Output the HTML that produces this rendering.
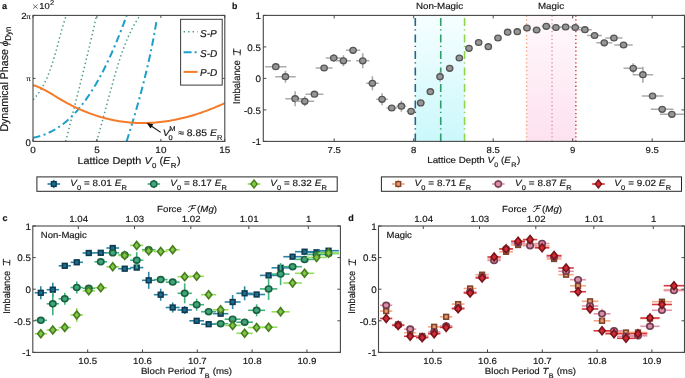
<!DOCTYPE html>
<html><head><meta charset="utf-8"><style>
html,body{margin:0;padding:0;background:#fff;}
body{width:685px;height:378px;overflow:hidden;font-family:"Liberation Sans",sans-serif;}
svg{display:block;will-change:transform;}
text{stroke:#141414;stroke-width:0.16px;paint-order:stroke;}
</style></head><body>
<svg width="685" height="378" viewBox="0 0 685 378" text-rendering="geometricPrecision">
<rect width="685" height="378" fill="#fff"/>
<defs><clipPath id="cpa"><rect x="33" y="15.4" width="191.8" height="126"/></clipPath><clipPath id="cpb"><rect x="263.3" y="15.4" width="421.1" height="126"/></clipPath><linearGradient id="gcy" x1="0" y1="0" x2="0" y2="1"><stop offset="0" stop-color="#f6feff"/><stop offset="1" stop-color="#cbf8fb"/></linearGradient><linearGradient id="gpk" x1="0" y1="0" x2="0" y2="1"><stop offset="0" stop-color="#fff9fc"/><stop offset="1" stop-color="#fde1ef"/></linearGradient></defs><g clip-path="url(#cpa)"><polyline points="33.2,99.8 34.44,98.37 35.62,96.94 36.74,95.51 37.81,94.08 38.83,92.65 39.8,91.22 40.73,89.79 41.62,88.36 42.46,86.93 43.26,85.49 44.03,84.06 44.76,82.63 45.46,81.2 46.13,79.77 46.78,78.34 47.39,76.91 47.99,75.48 48.56,74.05 49.11,72.62 49.65,71.19 50.18,69.76 50.68,68.33 51.18,66.9 51.66,65.47 52.14,64.04 52.6,62.61 53.05,61.18 53.49,59.75 53.93,58.32 54.35,56.88 54.77,55.45 55.18,54.02 55.58,52.59 55.98,51.16 56.38,49.73 56.77,48.3 57.16,46.87 57.54,45.44 57.92,44.01 58.3,42.58 58.68,41.15 59.06,39.72 59.45,38.29 59.83,36.86 60.21,35.43 60.6,34 60.99,32.57 61.38,31.14 61.78,29.71 62.19,28.27 62.6,26.84 63.02,25.41 63.44,23.98 63.88,22.55 64.32,21.12 64.77,19.69 65.23,18.26 65.71,16.83 66.19,15.4" fill="none" stroke="#45998a" stroke-width="1.5" stroke-dasharray="1.4 2.8"/><polyline points="65.79,141.4 66.32,139.26 66.85,137.13 67.38,134.99 67.91,132.86 68.44,130.72 68.98,128.59 69.51,126.45 70.05,124.32 70.58,122.18 71.12,120.04 71.66,117.91 72.19,115.77 72.73,113.64 73.27,111.5 73.81,109.37 74.35,107.23 74.89,105.09 75.43,102.96 75.97,100.82 76.5,98.69 77.04,96.55 77.58,94.42 78.12,92.28 78.66,90.15 79.19,88.01 79.73,85.87 80.27,83.74 80.8,81.6 81.33,79.47 81.87,77.33 82.4,75.2 82.93,73.06 83.46,70.93 83.99,68.79 84.51,66.65 85.04,64.52 85.56,62.38 86.08,60.25 86.6,58.11 87.12,55.98 87.64,53.84 88.16,51.71 88.67,49.57 89.18,47.43 89.69,45.3 90.19,43.16 90.7,41.03 91.2,38.89 91.7,36.76 92.2,34.62 92.69,32.48 93.18,30.35 93.67,28.21 94.15,26.08 94.64,23.94 95.12,21.81 95.59,19.67 96.06,17.54 96.53,15.4" fill="none" stroke="#45998a" stroke-width="1.5" stroke-dasharray="1.4 2.8"/><polyline points="96.62,141.4 97.24,139.26 97.86,137.13 98.47,134.99 99.07,132.86 99.67,130.72 100.27,128.59 100.86,126.45 101.45,124.32 102.04,122.18 102.62,120.04 103.2,117.91 103.78,115.77 104.36,113.64 104.94,111.5 105.52,109.37 106.09,107.23 106.67,105.09 107.24,102.96 107.82,100.82 108.4,98.69 108.98,96.55 109.56,94.42 110.14,92.28 110.72,90.15 111.31,88.01 111.89,85.87 112.49,83.74 113.08,81.6 113.68,79.47 114.29,77.33 114.9,75.2 115.52,73.06 116.14,70.93 116.78,68.79 117.43,66.65 118.09,64.52 118.76,62.38 119.45,60.25 120.15,58.11 120.86,55.98 121.6,53.84 122.35,51.71 123.12,49.57 123.91,47.43 124.72,45.3 125.55,43.16 126.42,41.03 127.31,38.89 128.24,36.76 129.21,34.62 130.21,32.48 131.26,30.35 132.36,28.21 133.5,26.08 134.7,23.94 135.95,21.81 137.26,19.67 138.63,17.54 140.06,15.4" fill="none" stroke="#45998a" stroke-width="1.5" stroke-dasharray="1.4 2.8"/><polyline points="33,137.86 34.36,137.56 35.72,137.23 37.08,136.88 38.44,136.51 39.8,136.1 41.17,135.67 42.53,135.21 43.89,134.72 45.25,134.2 46.61,133.64 47.97,133.05 49.33,132.43 50.69,131.77 52.05,131.08 53.41,130.35 54.77,129.57 56.13,128.77 57.5,127.92 58.86,127.02 60.22,126.09 61.58,125.12 62.94,124.1 64.3,123.04 65.66,121.93 67.02,120.77 68.38,119.57 69.74,118.32 71.1,117.03 72.47,115.68 73.83,114.28 75.19,112.84 76.55,111.34 77.91,109.79 79.27,108.19 80.63,106.53 81.99,104.82 83.35,103.06 84.71,101.24 86.07,99.37 87.43,97.44 88.8,95.45 90.16,93.41 91.52,91.3 92.88,89.14 94.24,86.92 95.6,84.64 96.96,82.3 98.32,79.9 99.68,77.44 101.04,74.92 102.4,72.33 103.77,69.69 105.13,66.98 106.49,64.2 107.85,61.37 109.21,58.47 110.57,55.51 111.93,52.48 113.29,49.39 114.65,46.23 116.01,43.01 117.37,39.72 118.73,36.36 120.1,32.94 121.46,29.46 122.82,25.91 124.18,22.29 125.54,18.6 126.9,14.85" fill="none" stroke="#1d9fc9" stroke-width="2" stroke-dasharray="7.5 3.5 2 3.5"/><polyline points="126.6,141.4 127.25,139.35 127.9,137.3 128.54,135.25 129.18,133.2 129.82,131.15 130.45,129.11 131.07,127.06 131.7,125.01 132.32,122.96 132.93,120.91 133.54,118.86 134.15,116.81 134.75,114.76 135.35,112.71 135.94,110.66 136.53,108.61 137.12,106.56 137.7,104.52 138.27,102.47 138.84,100.42 139.41,98.37 139.97,96.32 140.52,94.27 141.07,92.22 141.62,90.17 142.16,88.12 142.69,86.07 143.22,84.02 143.74,81.97 144.26,79.93 144.77,77.88 145.28,75.83 145.78,73.78 146.27,71.73 146.76,69.68 147.25,67.63 147.72,65.58 148.2,63.53 148.66,61.48 149.12,59.43 149.57,57.38 150.02,55.34 150.46,53.29 150.89,51.24 151.32,49.19 151.74,47.14 152.15,45.09 152.56,43.04 152.96,40.99 153.35,38.94 153.74,36.89 154.12,34.84 154.49,32.79 154.85,30.75 155.21,28.7 155.56,26.65 155.9,24.6 156.24,22.55 156.57,20.5" fill="none" stroke="#1d9fc9" stroke-width="2" stroke-dasharray="7.5 3.5 2 3.5"/><polyline points="33,85.16 35.16,85.8 37.31,86.58 39.47,87.47 41.62,88.45 43.78,89.53 45.93,90.68 48.09,91.89 50.24,93.14 52.4,94.43 54.55,95.74 56.71,97.05 58.86,98.36 61.02,99.64 63.17,100.89 65.33,102.1 67.48,103.28 69.64,104.42 71.79,105.53 73.95,106.6 76.1,107.64 78.26,108.64 80.41,109.6 82.57,110.54 84.72,111.43 86.88,112.3 89.03,113.12 91.19,113.92 93.34,114.68 95.5,115.4 97.65,116.09 99.81,116.75 101.96,117.37 104.12,117.96 106.27,118.52 108.43,119.04 110.58,119.53 112.74,119.99 114.89,120.41 117.05,120.8 119.2,121.16 121.36,121.48 123.51,121.78 125.67,122.04 127.82,122.27 129.98,122.47 132.13,122.64 134.29,122.77 136.44,122.88 138.6,122.95 140.75,122.99 142.91,123.01 145.06,122.99 147.22,122.95 149.37,122.87 151.53,122.76 153.68,122.63 155.84,122.47 157.99,122.27 160.15,122.05 162.3,121.8 164.46,121.53 166.61,121.22 168.77,120.89 170.92,120.53 173.08,120.14 175.23,119.72 177.39,119.28 179.54,118.81 181.7,118.31 183.85,117.79 186.01,117.24 188.16,116.67 190.32,116.07 192.47,115.44 194.63,114.79 196.78,114.11 198.94,113.41 201.09,112.68 203.25,111.93 205.4,111.16 207.56,110.36 209.71,109.53 211.87,108.69 214.02,107.82 216.18,106.92 218.33,106.01 220.49,105.07 222.64,104.1 224.8,103.12" fill="none" stroke="#f47b28" stroke-width="2" /></g><rect x="33" y="15.4" width="191.8" height="126" fill="none" stroke="#474747" stroke-width="1.1"/><line x1="33" y1="141.4" x2="33" y2="138.9" stroke="#474747" stroke-width="1" /><line x1="33" y1="15.4" x2="33" y2="17.9" stroke="#474747" stroke-width="1" /><line x1="96.93" y1="141.4" x2="96.93" y2="138.9" stroke="#474747" stroke-width="1" /><line x1="96.93" y1="15.4" x2="96.93" y2="17.9" stroke="#474747" stroke-width="1" /><line x1="160.87" y1="141.4" x2="160.87" y2="138.9" stroke="#474747" stroke-width="1" /><line x1="160.87" y1="15.4" x2="160.87" y2="17.9" stroke="#474747" stroke-width="1" /><line x1="224.8" y1="141.4" x2="224.8" y2="138.9" stroke="#474747" stroke-width="1" /><line x1="224.8" y1="15.4" x2="224.8" y2="17.9" stroke="#474747" stroke-width="1" /><line x1="33" y1="15.4" x2="35.5" y2="15.4" stroke="#474747" stroke-width="1" /><line x1="224.8" y1="15.4" x2="222.3" y2="15.4" stroke="#474747" stroke-width="1" /><line x1="33" y1="78.4" x2="35.5" y2="78.4" stroke="#474747" stroke-width="1" /><line x1="224.8" y1="78.4" x2="222.3" y2="78.4" stroke="#474747" stroke-width="1" /><line x1="33" y1="141.4" x2="35.5" y2="141.4" stroke="#474747" stroke-width="1" /><line x1="224.8" y1="141.4" x2="222.3" y2="141.4" stroke="#474747" stroke-width="1" /><text transform="translate(33,153.1) scale(1.1,1)" font-size="9" text-anchor="middle" font-weight="normal" font-style="normal" font-family='"Liberation Sans", sans-serif' fill="#141414" >0</text><text transform="translate(96.93,153.1) scale(1.1,1)" font-size="9" text-anchor="middle" font-weight="normal" font-style="normal" font-family='"Liberation Sans", sans-serif' fill="#141414" >5</text><text transform="translate(160.87,153.1) scale(1.1,1)" font-size="9" text-anchor="middle" font-weight="normal" font-style="normal" font-family='"Liberation Sans", sans-serif' fill="#141414" >10</text><text transform="translate(224.8,153.1) scale(1.1,1)" font-size="9" text-anchor="middle" font-weight="normal" font-style="normal" font-family='"Liberation Sans", sans-serif' fill="#141414" >15</text><text transform="translate(30.9,145.7) scale(1.0,1)" font-size="9.6" text-anchor="end" font-weight="normal" font-style="normal" font-family='"Liberation Sans", sans-serif' fill="#141414" >0</text><text transform="translate(30.8,81.4) scale(1.1,1)" font-size="7.6" text-anchor="end" font-weight="normal" font-style="normal" font-family='"Liberation Serif", serif' fill="#141414" >π</text><text transform="translate(30.8,18.9) scale(1.1,1)" font-size="8.8" text-anchor="end" font-weight="normal" font-style="normal" font-family='"Liberation Sans", sans-serif' fill="#141414" >2<tspan font-family='"Liberation Serif", serif' font-size="7.6">π</tspan></text><line x1="33.2" y1="4.5" x2="37.6" y2="8.7" stroke="#3a3a3a" stroke-width="0.75" /><line x1="37.6" y1="4.5" x2="33.2" y2="8.7" stroke="#3a3a3a" stroke-width="0.75" /><text transform="translate(39.2,8.9) scale(1.1,1)" font-size="8.6" text-anchor="start" font-weight="normal" font-style="normal" font-family='"Liberation Sans", sans-serif' fill="#141414" >10<tspan dx="0.2" dy="-3.8" font-size="6.8">2</tspan></text><text transform="translate(2,8.9) scale(1.0,1)" font-size="9" text-anchor="start" font-weight="bold" font-style="normal" font-family='"Liberation Sans", sans-serif' fill="#141414" >a</text><text transform="translate(77.4,163.6) scale(1.1,1)" font-size="9.9" text-anchor="start" font-weight="normal" font-style="normal" font-family='"Liberation Sans", sans-serif' fill="#141414" >Lattice Depth <tspan font-style="italic">V</tspan><tspan dx="0.3" dy="4.6" font-size="7.2">0</tspan><tspan dy="-4.6"> </tspan>(<tspan font-style="italic">E</tspan><tspan dx="0.3" dy="4.6" font-size="7.2">R</tspan><tspan dx="0.6" dy="-4.6">)</tspan></text><text transform="translate(7.9,131.6) rotate(-90) scale(1,1.06)" font-size="10.6" text-anchor="start" font-weight="normal" font-style="normal" font-family='"Liberation Sans", sans-serif' fill="#141414" >Dynamical Phase <tspan font-family='"Liberation Serif", serif' font-style="italic">ϕ</tspan><tspan dy="3.2" font-size="8">Dyn</tspan></text><rect x="180.6" y="19.3" width="41.6" height="65.8" fill="#fff" stroke="#3a3a3a" stroke-width="1"/><line x1="183.6" y1="31.8" x2="197.6" y2="31.8" stroke="#45998a" stroke-width="1.5" stroke-dasharray="1.4 3.1"/><line x1="183.6" y1="52.3" x2="197.6" y2="52.3" stroke="#1d9fc9" stroke-width="2" stroke-dasharray="8 3 2 3"/><line x1="183.6" y1="71.9" x2="197.6" y2="71.9" stroke="#f47b28" stroke-width="2" /><text transform="translate(200,36.7) scale(1.0,1)" font-size="10" text-anchor="start" font-weight="normal" font-style="italic" font-family='"Liberation Sans", sans-serif' fill="#141414" >S-P</text><text transform="translate(200,56.8) scale(1.0,1)" font-size="10" text-anchor="start" font-weight="normal" font-style="italic" font-family='"Liberation Sans", sans-serif' fill="#141414" >S-D</text><text transform="translate(200,76.2) scale(1.0,1)" font-size="10" text-anchor="start" font-weight="normal" font-style="italic" font-family='"Liberation Sans", sans-serif' fill="#141414" >P-D</text><line x1="160.7" y1="132.4" x2="150.5" y2="125.5" stroke="#111" stroke-width="1.1" /><path d="M146.5,122.8 L153.3,124.3 L150.6,128.4 Z" fill="#111"/><text transform="translate(162.8,135.6) scale(1.1,1)" font-size="9.45" text-anchor="start" font-weight="normal" font-style="normal" font-family='"Liberation Sans", sans-serif' fill="#141414" ><tspan font-style="italic">V</tspan><tspan dx="-0.4" dy="-4.4" font-size="6.8">M</tspan><tspan dx="-6.3" dy="9.0" font-size="6.8">0</tspan><tspan dx="2.4" dy="-4.6"> ≈ 8.85 </tspan><tspan font-style="italic">E</tspan><tspan dx="0.1" dy="4.1" font-size="6.9">R</tspan></text><rect x="415.29" y="15.4" width="49.29" height="126.0" fill="url(#gcy)"/><rect x="526.59" y="15.4" width="49.29" height="126.0" fill="url(#gpk)"/><line x1="415.29" y1="15.4" x2="415.29" y2="141.4" stroke="#1c6a8c" stroke-width="1.6" stroke-dasharray="8 3.3 1.3 3.9" stroke-dashoffset="-2.5"/><line x1="440.73" y1="15.4" x2="440.73" y2="141.4" stroke="#2f9e68" stroke-width="1.6" stroke-dasharray="8 3.3 1.3 3.9" stroke-dashoffset="-2.5"/><line x1="464.58" y1="15.4" x2="464.58" y2="141.4" stroke="#8ed54e" stroke-width="1.6" stroke-dasharray="8 3.3 1.3 3.9" stroke-dashoffset="-2.5"/><line x1="526.59" y1="15.4" x2="526.59" y2="141.4" stroke="#f3a07a" stroke-width="1.4" stroke-dasharray="1.3 2.6"/><line x1="552.03" y1="15.4" x2="552.03" y2="141.4" stroke="#d995ad" stroke-width="1.4" stroke-dasharray="1.3 2.6"/><line x1="575.88" y1="15.4" x2="575.88" y2="141.4" stroke="#d6333c" stroke-width="1.4" stroke-dasharray="1.3 2.6"/><g clip-path="url(#cpb)"><line x1="265.11" y1="66.7" x2="286.49" y2="66.7" stroke="#ababab" stroke-width="1.6" /><line x1="275.8" y1="64.7" x2="275.8" y2="68.7" stroke="#ababab" stroke-width="1.6" /><ellipse cx="275.8" cy="66.7" rx="3.2" ry="2.95" fill="#969696" stroke="#565656" stroke-width="1.3"/><line x1="275.22" y1="76.7" x2="295.7" y2="76.7" stroke="#ababab" stroke-width="1.6" /><line x1="285.46" y1="70.7" x2="285.46" y2="82.7" stroke="#ababab" stroke-width="1.6" /><ellipse cx="285.46" cy="76.7" rx="3.2" ry="2.95" fill="#969696" stroke="#565656" stroke-width="1.3"/><line x1="285.32" y1="98.7" x2="304.92" y2="98.7" stroke="#ababab" stroke-width="1.6" /><line x1="295.12" y1="91.2" x2="295.12" y2="106.2" stroke="#ababab" stroke-width="1.6" /><ellipse cx="295.12" cy="98.7" rx="3.2" ry="2.95" fill="#969696" stroke="#565656" stroke-width="1.3"/><line x1="295.42" y1="101.3" x2="314.14" y2="101.3" stroke="#ababab" stroke-width="1.6" /><line x1="304.78" y1="96.3" x2="304.78" y2="106.3" stroke="#ababab" stroke-width="1.6" /><ellipse cx="304.78" cy="101.3" rx="3.2" ry="2.95" fill="#969696" stroke="#565656" stroke-width="1.3"/><line x1="305.53" y1="94.2" x2="323.35" y2="94.2" stroke="#ababab" stroke-width="1.6" /><line x1="314.44" y1="92.2" x2="314.44" y2="96.2" stroke="#ababab" stroke-width="1.6" /><ellipse cx="314.44" cy="94.2" rx="3.2" ry="2.95" fill="#969696" stroke="#565656" stroke-width="1.3"/><line x1="315.63" y1="68" x2="332.57" y2="68" stroke="#ababab" stroke-width="1.6" /><line x1="324.1" y1="66" x2="324.1" y2="70" stroke="#ababab" stroke-width="1.6" /><ellipse cx="324.1" cy="68" rx="3.2" ry="2.95" fill="#969696" stroke="#565656" stroke-width="1.3"/><line x1="325.73" y1="58" x2="341.79" y2="58" stroke="#ababab" stroke-width="1.6" /><line x1="333.76" y1="54" x2="333.76" y2="62" stroke="#ababab" stroke-width="1.6" /><ellipse cx="333.76" cy="58" rx="3.2" ry="2.95" fill="#969696" stroke="#565656" stroke-width="1.3"/><line x1="335.84" y1="60.8" x2="351" y2="60.8" stroke="#ababab" stroke-width="1.6" /><line x1="343.42" y1="55.3" x2="343.42" y2="66.3" stroke="#ababab" stroke-width="1.6" /><ellipse cx="343.42" cy="60.8" rx="3.2" ry="2.95" fill="#969696" stroke="#565656" stroke-width="1.3"/><line x1="345.94" y1="50.3" x2="360.22" y2="50.3" stroke="#ababab" stroke-width="1.6" /><line x1="353.08" y1="48.3" x2="353.08" y2="52.3" stroke="#ababab" stroke-width="1.6" /><ellipse cx="353.08" cy="50.3" rx="3.2" ry="2.95" fill="#969696" stroke="#565656" stroke-width="1.3"/><line x1="356.04" y1="60.8" x2="369.44" y2="60.8" stroke="#ababab" stroke-width="1.6" /><line x1="362.74" y1="53.3" x2="362.74" y2="68.3" stroke="#ababab" stroke-width="1.6" /><ellipse cx="362.74" cy="60.8" rx="3.2" ry="2.95" fill="#969696" stroke="#565656" stroke-width="1.3"/><line x1="366.15" y1="83.3" x2="378.65" y2="83.3" stroke="#ababab" stroke-width="1.6" /><line x1="372.4" y1="76.3" x2="372.4" y2="90.3" stroke="#ababab" stroke-width="1.6" /><ellipse cx="372.4" cy="83.3" rx="3.2" ry="2.95" fill="#969696" stroke="#565656" stroke-width="1.3"/><line x1="376.25" y1="99.3" x2="387.87" y2="99.3" stroke="#ababab" stroke-width="1.6" /><line x1="382.06" y1="93.3" x2="382.06" y2="105.3" stroke="#ababab" stroke-width="1.6" /><ellipse cx="382.06" cy="99.3" rx="3.2" ry="2.95" fill="#969696" stroke="#565656" stroke-width="1.3"/><line x1="386.35" y1="108" x2="397.09" y2="108" stroke="#ababab" stroke-width="1.6" /><line x1="391.72" y1="106" x2="391.72" y2="110" stroke="#ababab" stroke-width="1.6" /><ellipse cx="391.72" cy="108" rx="3.2" ry="2.95" fill="#969696" stroke="#565656" stroke-width="1.3"/><line x1="396.46" y1="106.2" x2="406.3" y2="106.2" stroke="#ababab" stroke-width="1.6" /><line x1="401.38" y1="100.7" x2="401.38" y2="111.7" stroke="#ababab" stroke-width="1.6" /><ellipse cx="401.38" cy="106.2" rx="3.2" ry="2.95" fill="#969696" stroke="#565656" stroke-width="1.3"/><line x1="406.56" y1="111.3" x2="415.52" y2="111.3" stroke="#ababab" stroke-width="1.6" /><line x1="411.04" y1="109.3" x2="411.04" y2="113.3" stroke="#ababab" stroke-width="1.6" /><ellipse cx="411.04" cy="111.3" rx="3.2" ry="2.95" fill="#969696" stroke="#565656" stroke-width="1.3"/><line x1="416.66" y1="102.9" x2="424.74" y2="102.9" stroke="#ababab" stroke-width="1.6" /><line x1="420.7" y1="99.9" x2="420.7" y2="105.9" stroke="#ababab" stroke-width="1.6" /><ellipse cx="420.7" cy="102.9" rx="3.2" ry="2.95" fill="#969696" stroke="#565656" stroke-width="1.3"/><line x1="426.77" y1="91.7" x2="433.95" y2="91.7" stroke="#ababab" stroke-width="1.6" /><line x1="430.36" y1="88.7" x2="430.36" y2="94.7" stroke="#ababab" stroke-width="1.6" /><ellipse cx="430.36" cy="91.7" rx="3.2" ry="2.95" fill="#969696" stroke="#565656" stroke-width="1.3"/><line x1="436.87" y1="76.7" x2="443.17" y2="76.7" stroke="#ababab" stroke-width="1.6" /><line x1="440.02" y1="71.7" x2="440.02" y2="81.7" stroke="#ababab" stroke-width="1.6" /><ellipse cx="440.02" cy="76.7" rx="3.2" ry="2.95" fill="#969696" stroke="#565656" stroke-width="1.3"/><line x1="446.97" y1="68.3" x2="452.39" y2="68.3" stroke="#ababab" stroke-width="1.6" /><line x1="449.68" y1="65.3" x2="449.68" y2="71.3" stroke="#ababab" stroke-width="1.6" /><ellipse cx="449.68" cy="68.3" rx="3.2" ry="2.95" fill="#969696" stroke="#565656" stroke-width="1.3"/><line x1="457.08" y1="58" x2="461.6" y2="58" stroke="#ababab" stroke-width="1.6" /><line x1="459.34" y1="56" x2="459.34" y2="60" stroke="#ababab" stroke-width="1.6" /><ellipse cx="459.34" cy="58" rx="3.2" ry="2.95" fill="#969696" stroke="#565656" stroke-width="1.3"/><line x1="467.18" y1="48.3" x2="470.82" y2="48.3" stroke="#ababab" stroke-width="1.6" /><line x1="469" y1="46.3" x2="469" y2="50.3" stroke="#ababab" stroke-width="1.6" /><ellipse cx="469" cy="48.3" rx="3.2" ry="2.95" fill="#969696" stroke="#565656" stroke-width="1.3"/><line x1="477.16" y1="42.5" x2="480.16" y2="42.5" stroke="#ababab" stroke-width="1.6" /><line x1="478.66" y1="40.5" x2="478.66" y2="44.5" stroke="#ababab" stroke-width="1.6" /><ellipse cx="478.66" cy="42.5" rx="3.2" ry="2.95" fill="#969696" stroke="#565656" stroke-width="1.3"/><line x1="486.82" y1="46.7" x2="489.82" y2="46.7" stroke="#ababab" stroke-width="1.6" /><line x1="488.32" y1="44.7" x2="488.32" y2="48.7" stroke="#ababab" stroke-width="1.6" /><ellipse cx="488.32" cy="46.7" rx="3.2" ry="2.95" fill="#969696" stroke="#565656" stroke-width="1.3"/><line x1="496.2" y1="38" x2="499.76" y2="38" stroke="#ababab" stroke-width="1.6" /><line x1="497.98" y1="36" x2="497.98" y2="40" stroke="#ababab" stroke-width="1.6" /><ellipse cx="497.98" cy="38" rx="3.2" ry="2.95" fill="#969696" stroke="#565656" stroke-width="1.3"/><line x1="505.3" y1="32.2" x2="509.98" y2="32.2" stroke="#ababab" stroke-width="1.6" /><line x1="507.64" y1="30.2" x2="507.64" y2="34.2" stroke="#ababab" stroke-width="1.6" /><ellipse cx="507.64" cy="32.2" rx="3.2" ry="2.95" fill="#969696" stroke="#565656" stroke-width="1.3"/><line x1="514.39" y1="31.7" x2="520.21" y2="31.7" stroke="#ababab" stroke-width="1.6" /><line x1="517.3" y1="29.7" x2="517.3" y2="33.7" stroke="#ababab" stroke-width="1.6" /><ellipse cx="517.3" cy="31.7" rx="3.2" ry="2.95" fill="#969696" stroke="#565656" stroke-width="1.3"/><line x1="523.49" y1="28" x2="530.43" y2="28" stroke="#ababab" stroke-width="1.6" /><line x1="526.96" y1="26.5" x2="526.96" y2="29.5" stroke="#ababab" stroke-width="1.6" /><ellipse cx="526.96" cy="28" rx="3.2" ry="2.95" fill="#969696" stroke="#565656" stroke-width="1.3"/><line x1="532.58" y1="30" x2="540.66" y2="30" stroke="#ababab" stroke-width="1.6" /><line x1="536.62" y1="28" x2="536.62" y2="32" stroke="#ababab" stroke-width="1.6" /><ellipse cx="536.62" cy="30" rx="3.2" ry="2.95" fill="#969696" stroke="#565656" stroke-width="1.3"/><line x1="541.68" y1="26.3" x2="550.88" y2="26.3" stroke="#ababab" stroke-width="1.6" /><line x1="546.28" y1="24.3" x2="546.28" y2="28.3" stroke="#ababab" stroke-width="1.6" /><ellipse cx="546.28" cy="26.3" rx="3.2" ry="2.95" fill="#969696" stroke="#565656" stroke-width="1.3"/><line x1="550.77" y1="27.5" x2="561.11" y2="27.5" stroke="#ababab" stroke-width="1.6" /><line x1="555.94" y1="25.5" x2="555.94" y2="29.5" stroke="#ababab" stroke-width="1.6" /><ellipse cx="555.94" cy="27.5" rx="3.2" ry="2.95" fill="#969696" stroke="#565656" stroke-width="1.3"/><line x1="559.87" y1="27" x2="571.33" y2="27" stroke="#ababab" stroke-width="1.6" /><line x1="565.6" y1="25" x2="565.6" y2="29" stroke="#ababab" stroke-width="1.6" /><ellipse cx="565.6" cy="27" rx="3.2" ry="2.95" fill="#969696" stroke="#565656" stroke-width="1.3"/><line x1="568.96" y1="27.5" x2="581.56" y2="27.5" stroke="#ababab" stroke-width="1.6" /><line x1="575.26" y1="25.5" x2="575.26" y2="29.5" stroke="#ababab" stroke-width="1.6" /><ellipse cx="575.26" cy="27.5" rx="3.2" ry="2.95" fill="#969696" stroke="#565656" stroke-width="1.3"/><line x1="578.06" y1="29.7" x2="591.78" y2="29.7" stroke="#ababab" stroke-width="1.6" /><line x1="584.92" y1="27.7" x2="584.92" y2="31.7" stroke="#ababab" stroke-width="1.6" /><ellipse cx="584.92" cy="29.7" rx="3.2" ry="2.95" fill="#969696" stroke="#565656" stroke-width="1.3"/><line x1="587.15" y1="35.5" x2="602.01" y2="35.5" stroke="#ababab" stroke-width="1.6" /><line x1="594.58" y1="32.5" x2="594.58" y2="38.5" stroke="#ababab" stroke-width="1.6" /><ellipse cx="594.58" cy="35.5" rx="3.2" ry="2.95" fill="#969696" stroke="#565656" stroke-width="1.3"/><line x1="596.25" y1="42.8" x2="612.23" y2="42.8" stroke="#ababab" stroke-width="1.6" /><line x1="604.24" y1="40.8" x2="604.24" y2="44.8" stroke="#ababab" stroke-width="1.6" /><ellipse cx="604.24" cy="42.8" rx="3.2" ry="2.95" fill="#969696" stroke="#565656" stroke-width="1.3"/><line x1="605.34" y1="38" x2="622.46" y2="38" stroke="#ababab" stroke-width="1.6" /><line x1="613.9" y1="36" x2="613.9" y2="40" stroke="#ababab" stroke-width="1.6" /><ellipse cx="613.9" cy="38" rx="3.2" ry="2.95" fill="#969696" stroke="#565656" stroke-width="1.3"/><line x1="614.44" y1="45" x2="632.68" y2="45" stroke="#ababab" stroke-width="1.6" /><line x1="623.56" y1="43" x2="623.56" y2="47" stroke="#ababab" stroke-width="1.6" /><ellipse cx="623.56" cy="45" rx="3.2" ry="2.95" fill="#969696" stroke="#565656" stroke-width="1.3"/><line x1="623.53" y1="68.3" x2="642.91" y2="68.3" stroke="#ababab" stroke-width="1.6" /><line x1="633.22" y1="63.3" x2="633.22" y2="73.3" stroke="#ababab" stroke-width="1.6" /><ellipse cx="633.22" cy="68.3" rx="3.2" ry="2.95" fill="#969696" stroke="#565656" stroke-width="1.3"/><line x1="632.63" y1="74.7" x2="653.13" y2="74.7" stroke="#ababab" stroke-width="1.6" /><line x1="642.88" y1="66.7" x2="642.88" y2="82.7" stroke="#ababab" stroke-width="1.6" /><ellipse cx="642.88" cy="74.7" rx="3.2" ry="2.95" fill="#969696" stroke="#565656" stroke-width="1.3"/><line x1="641.72" y1="96" x2="663.36" y2="96" stroke="#ababab" stroke-width="1.6" /><line x1="652.54" y1="93" x2="652.54" y2="99" stroke="#ababab" stroke-width="1.6" /><ellipse cx="652.54" cy="96" rx="3.2" ry="2.95" fill="#969696" stroke="#565656" stroke-width="1.3"/><line x1="650.82" y1="109.3" x2="673.58" y2="109.3" stroke="#ababab" stroke-width="1.6" /><line x1="662.2" y1="106.3" x2="662.2" y2="112.3" stroke="#ababab" stroke-width="1.6" /><ellipse cx="662.2" cy="109.3" rx="3.2" ry="2.95" fill="#969696" stroke="#565656" stroke-width="1.3"/><line x1="659.91" y1="114.3" x2="683.81" y2="114.3" stroke="#ababab" stroke-width="1.6" /><line x1="671.86" y1="111.3" x2="671.86" y2="117.3" stroke="#ababab" stroke-width="1.6" /><ellipse cx="671.86" cy="114.3" rx="3.2" ry="2.95" fill="#969696" stroke="#565656" stroke-width="1.3"/></g><rect x="263.3" y="15.4" width="421.2" height="126" fill="none" stroke="#474747" stroke-width="1.1"/><line x1="334.2" y1="141.4" x2="334.2" y2="138.4" stroke="#474747" stroke-width="1" /><line x1="334.2" y1="15.4" x2="334.2" y2="18.4" stroke="#474747" stroke-width="1" /><line x1="413.7" y1="141.4" x2="413.7" y2="138.4" stroke="#474747" stroke-width="1" /><line x1="413.7" y1="15.4" x2="413.7" y2="18.4" stroke="#474747" stroke-width="1" /><line x1="493.2" y1="141.4" x2="493.2" y2="138.4" stroke="#474747" stroke-width="1" /><line x1="493.2" y1="15.4" x2="493.2" y2="18.4" stroke="#474747" stroke-width="1" /><line x1="572.7" y1="141.4" x2="572.7" y2="138.4" stroke="#474747" stroke-width="1" /><line x1="572.7" y1="15.4" x2="572.7" y2="18.4" stroke="#474747" stroke-width="1" /><line x1="652.2" y1="141.4" x2="652.2" y2="138.4" stroke="#474747" stroke-width="1" /><line x1="652.2" y1="15.4" x2="652.2" y2="18.4" stroke="#474747" stroke-width="1" /><line x1="263.3" y1="15.4" x2="266.3" y2="15.4" stroke="#474747" stroke-width="1" /><line x1="684.5" y1="15.4" x2="681.5" y2="15.4" stroke="#474747" stroke-width="1" /><line x1="263.3" y1="46.9" x2="266.3" y2="46.9" stroke="#474747" stroke-width="1" /><line x1="684.5" y1="46.9" x2="681.5" y2="46.9" stroke="#474747" stroke-width="1" /><line x1="263.3" y1="78.4" x2="266.3" y2="78.4" stroke="#474747" stroke-width="1" /><line x1="684.5" y1="78.4" x2="681.5" y2="78.4" stroke="#474747" stroke-width="1" /><line x1="263.3" y1="109.9" x2="266.3" y2="109.9" stroke="#474747" stroke-width="1" /><line x1="684.5" y1="109.9" x2="681.5" y2="109.9" stroke="#474747" stroke-width="1" /><line x1="263.3" y1="141.4" x2="266.3" y2="141.4" stroke="#474747" stroke-width="1" /><line x1="684.5" y1="141.4" x2="681.5" y2="141.4" stroke="#474747" stroke-width="1" /><text transform="translate(334.2,152.9) scale(1.1,1)" font-size="8.7" text-anchor="middle" font-weight="normal" font-style="normal" font-family='"Liberation Sans", sans-serif' fill="#141414" >7.5</text><text transform="translate(413.7,152.9) scale(1.1,1)" font-size="8.7" text-anchor="middle" font-weight="normal" font-style="normal" font-family='"Liberation Sans", sans-serif' fill="#141414" >8</text><text transform="translate(493.2,152.9) scale(1.1,1)" font-size="8.7" text-anchor="middle" font-weight="normal" font-style="normal" font-family='"Liberation Sans", sans-serif' fill="#141414" >8.5</text><text transform="translate(572.7,152.9) scale(1.1,1)" font-size="8.7" text-anchor="middle" font-weight="normal" font-style="normal" font-family='"Liberation Sans", sans-serif' fill="#141414" >9</text><text transform="translate(652.2,152.9) scale(1.1,1)" font-size="8.7" text-anchor="middle" font-weight="normal" font-style="normal" font-family='"Liberation Sans", sans-serif' fill="#141414" >9.5</text><text transform="translate(260.9,19.3) scale(1.03,1)" font-size="9.5" text-anchor="end" font-weight="normal" font-style="normal" font-family='"Liberation Sans", sans-serif' fill="#141414" >1</text><text transform="translate(260.9,50.8) scale(1.03,1)" font-size="9.5" text-anchor="end" font-weight="normal" font-style="normal" font-family='"Liberation Sans", sans-serif' fill="#141414" >0.5</text><text transform="translate(260.9,82.3) scale(1.03,1)" font-size="9.5" text-anchor="end" font-weight="normal" font-style="normal" font-family='"Liberation Sans", sans-serif' fill="#141414" >0</text><text transform="translate(260.9,113.8) scale(1.03,1)" font-size="9.5" text-anchor="end" font-weight="normal" font-style="normal" font-family='"Liberation Sans", sans-serif' fill="#141414" >-0.5</text><text transform="translate(260.9,145.3) scale(1.03,1)" font-size="9.5" text-anchor="end" font-weight="normal" font-style="normal" font-family='"Liberation Sans", sans-serif' fill="#141414" >-1</text><text transform="translate(231.9,9.2) scale(0.98,1)" font-size="9" text-anchor="start" font-weight="bold" font-style="normal" font-family='"Liberation Sans", sans-serif' fill="#141414" >b</text><text transform="translate(439.5,9.3) scale(1.1,1)" font-size="8.9" text-anchor="middle" font-weight="normal" font-style="normal" font-family='"Liberation Sans", sans-serif' fill="#141414" >Non-Magic</text><text transform="translate(551,9.3) scale(1.1,1)" font-size="8.9" text-anchor="middle" font-weight="normal" font-style="normal" font-family='"Liberation Sans", sans-serif' fill="#141414" >Magic</text><text transform="translate(427.2,163.2) scale(1.1,1)" font-size="8.9" text-anchor="start" font-weight="normal" font-style="normal" font-family='"Liberation Sans", sans-serif' fill="#141414" >Lattice Depth <tspan font-style="italic">V</tspan><tspan dx="0.3" dy="4.2" font-size="6.6">0</tspan><tspan dy="-4.2"> </tspan>(<tspan font-style="italic">E</tspan><tspan dx="0.3" dy="4.2" font-size="6.6">R</tspan><tspan dx="0.5" dy="-4.2">)</tspan></text><text transform="translate(240,104) rotate(-90) scale(1,1.05)" font-size="9.5" text-anchor="start" font-weight="normal" font-style="normal" font-family='"Liberation Sans", sans-serif' fill="#141414" >Imbalance</text><path d="M1.5,-6.5 C3,-6.9 5.5,-6.6 7.6,-6.6 M5.2,-6.5 C4.8,-4.2 4.3,-2 3.9,0 M1.4,0 C3,0.2 5,-0.1 6.6,0.1" transform="translate(240.2,56.3) rotate(-90) scale(0.978)" fill="none" stroke="#141414" stroke-width="0.95" stroke-linecap="round"/><rect x="36.9" y="176.9" width="300.3" height="14.4" fill="#fff" stroke="#262626" stroke-width="1"/><line x1="47.5" y1="184" x2="60.1" y2="184" stroke="#2b86a6" stroke-width="1.7" /><line x1="53.8" y1="179.8" x2="53.8" y2="188.2" stroke="#2b86a6" stroke-width="1.7" /><rect x="51.45" y="181.65" width="4.7" height="4.7" fill="#1f6e8e" stroke="#0d3a50" stroke-width="1.4"/><text transform="translate(70.2,186) scale(1.1,1)" font-size="9.0" text-anchor="start" font-weight="normal" font-style="normal" font-family='"Liberation Sans", sans-serif' fill="#141414" ><tspan font-style="italic">V</tspan><tspan dx="0.1" dy="4.3" font-size="6.8">0</tspan><tspan dy="-4.3"> </tspan><tspan dx="0.2">= 8.01 </tspan><tspan font-style="italic">E</tspan><tspan dx="0.3" dy="4.3" font-size="6.8">R</tspan></text><line x1="147.5" y1="184" x2="160.1" y2="184" stroke="#40b27c" stroke-width="1.7" /><line x1="153.8" y1="179.8" x2="153.8" y2="188.2" stroke="#40b27c" stroke-width="1.7" /><ellipse cx="153.8" cy="184" rx="3.2" ry="2.95" fill="#41a67a" stroke="#1a6242" stroke-width="1.4"/><text transform="translate(170.2,186) scale(1.1,1)" font-size="9.0" text-anchor="start" font-weight="normal" font-style="normal" font-family='"Liberation Sans", sans-serif' fill="#141414" ><tspan font-style="italic">V</tspan><tspan dx="0.1" dy="4.3" font-size="6.8">0</tspan><tspan dy="-4.3"> </tspan><tspan dx="0.2">= 8.17 </tspan><tspan font-style="italic">E</tspan><tspan dx="0.3" dy="4.3" font-size="6.8">R</tspan></text><line x1="247.7" y1="184" x2="260.3" y2="184" stroke="#93e057" stroke-width="1.7" /><line x1="254" y1="179.8" x2="254" y2="188.2" stroke="#93e057" stroke-width="1.7" /><path d="M254,180L257.2,184L254,188L250.8,184Z" fill="#80c84a" stroke="#487c20" stroke-width="1.4"/><text transform="translate(270.2,186) scale(1.1,1)" font-size="9.0" text-anchor="start" font-weight="normal" font-style="normal" font-family='"Liberation Sans", sans-serif' fill="#141414" ><tspan font-style="italic">V</tspan><tspan dx="0.1" dy="4.3" font-size="6.8">0</tspan><tspan dy="-4.3"> </tspan><tspan dx="0.2">= 8.32 </tspan><tspan font-style="italic">E</tspan><tspan dx="0.3" dy="4.3" font-size="6.8">R</tspan></text><rect x="381.4" y="176.9" width="300.1" height="14.4" fill="#fff" stroke="#262626" stroke-width="1"/><line x1="392" y1="184" x2="404.6" y2="184" stroke="#f7a882" stroke-width="1.7" /><line x1="398.3" y1="179.8" x2="398.3" y2="188.2" stroke="#f7a882" stroke-width="1.7" /><rect x="395.95" y="181.65" width="4.7" height="4.7" fill="#eb9a70" stroke="#7c4429" stroke-width="1.4"/><text transform="translate(414.5,186) scale(1.1,1)" font-size="9.0" text-anchor="start" font-weight="normal" font-style="normal" font-family='"Liberation Sans", sans-serif' fill="#141414" ><tspan font-style="italic">V</tspan><tspan dx="0.1" dy="4.3" font-size="6.8">0</tspan><tspan dy="-4.3"> </tspan><tspan dx="0.2">= 8.71 </tspan><tspan font-style="italic">E</tspan><tspan dx="0.3" dy="4.3" font-size="6.8">R</tspan></text><line x1="492" y1="184" x2="504.6" y2="184" stroke="#e293aa" stroke-width="1.7" /><line x1="498.3" y1="179.8" x2="498.3" y2="188.2" stroke="#e293aa" stroke-width="1.7" /><ellipse cx="498.3" cy="184" rx="3.2" ry="2.95" fill="#d98ea6" stroke="#713e52" stroke-width="1.4"/><text transform="translate(515,186) scale(1.1,1)" font-size="9.0" text-anchor="start" font-weight="normal" font-style="normal" font-family='"Liberation Sans", sans-serif' fill="#141414" ><tspan font-style="italic">V</tspan><tspan dx="0.1" dy="4.3" font-size="6.8">0</tspan><tspan dy="-4.3"> </tspan><tspan dx="0.2">= 8.87 </tspan><tspan font-style="italic">E</tspan><tspan dx="0.3" dy="4.3" font-size="6.8">R</tspan></text><line x1="592.1" y1="184" x2="604.7" y2="184" stroke="#d9383f" stroke-width="1.7" /><line x1="598.4" y1="179.8" x2="598.4" y2="188.2" stroke="#d9383f" stroke-width="1.7" /><path d="M598.4,180L601.6,184L598.4,188L595.2,184Z" fill="#d02c36" stroke="#7a131b" stroke-width="1.4"/><text transform="translate(614.3,186) scale(1.1,1)" font-size="9.0" text-anchor="start" font-weight="normal" font-style="normal" font-family='"Liberation Sans", sans-serif' fill="#141414" ><tspan font-style="italic">V</tspan><tspan dx="0.1" dy="4.3" font-size="6.8">0</tspan><tspan dy="-4.3"> </tspan><tspan dx="0.2">= 9.02 </tspan><tspan font-style="italic">E</tspan><tspan dx="0.3" dy="4.3" font-size="6.8">R</tspan></text><line x1="34.7" y1="292.8" x2="46.9" y2="292.8" stroke="#2b86a6" stroke-width="1.6" /><line x1="40.8" y1="286.3" x2="40.8" y2="299.3" stroke="#2b86a6" stroke-width="1.6" /><rect x="38.45" y="290.45" width="4.7" height="4.7" fill="#1f6e8e" stroke="#0d3a50" stroke-width="1.6"/><line x1="46.68" y1="289.7" x2="58.9" y2="289.7" stroke="#2b86a6" stroke-width="1.6" /><line x1="52.79" y1="282.7" x2="52.79" y2="296.7" stroke="#2b86a6" stroke-width="1.6" /><rect x="50.44" y="287.35" width="4.7" height="4.7" fill="#1f6e8e" stroke="#0d3a50" stroke-width="1.6"/><line x1="58.65" y1="265.8" x2="70.91" y2="265.8" stroke="#2b86a6" stroke-width="1.6" /><line x1="64.78" y1="263.3" x2="64.78" y2="268.3" stroke="#2b86a6" stroke-width="1.6" /><rect x="62.43" y="263.45" width="4.7" height="4.7" fill="#1f6e8e" stroke="#0d3a50" stroke-width="1.6"/><line x1="70.6" y1="262.3" x2="82.94" y2="262.3" stroke="#2b86a6" stroke-width="1.6" /><line x1="76.77" y1="259.8" x2="76.77" y2="264.8" stroke="#2b86a6" stroke-width="1.6" /><rect x="74.42" y="259.95" width="4.7" height="4.7" fill="#1f6e8e" stroke="#0d3a50" stroke-width="1.6"/><line x1="82.54" y1="253" x2="94.98" y2="253" stroke="#2b86a6" stroke-width="1.6" /><line x1="88.76" y1="250.5" x2="88.76" y2="255.5" stroke="#2b86a6" stroke-width="1.6" /><rect x="86.41" y="250.65" width="4.7" height="4.7" fill="#1f6e8e" stroke="#0d3a50" stroke-width="1.6"/><line x1="94.47" y1="252.8" x2="107.03" y2="252.8" stroke="#2b86a6" stroke-width="1.6" /><line x1="100.75" y1="250.3" x2="100.75" y2="255.3" stroke="#2b86a6" stroke-width="1.6" /><rect x="98.4" y="250.45" width="4.7" height="4.7" fill="#1f6e8e" stroke="#0d3a50" stroke-width="1.6"/><line x1="106.38" y1="248" x2="119.1" y2="248" stroke="#2b86a6" stroke-width="1.6" /><line x1="112.74" y1="245.5" x2="112.74" y2="250.5" stroke="#2b86a6" stroke-width="1.6" /><rect x="110.39" y="245.65" width="4.7" height="4.7" fill="#1f6e8e" stroke="#0d3a50" stroke-width="1.6"/><line x1="118.27" y1="268.7" x2="131.19" y2="268.7" stroke="#2b86a6" stroke-width="1.6" /><line x1="124.73" y1="266.2" x2="124.73" y2="271.2" stroke="#2b86a6" stroke-width="1.6" /><rect x="122.38" y="266.35" width="4.7" height="4.7" fill="#1f6e8e" stroke="#0d3a50" stroke-width="1.6"/><line x1="130.15" y1="267.6" x2="143.29" y2="267.6" stroke="#2b86a6" stroke-width="1.6" /><line x1="136.72" y1="265.1" x2="136.72" y2="270.1" stroke="#2b86a6" stroke-width="1.6" /><rect x="134.37" y="265.25" width="4.7" height="4.7" fill="#1f6e8e" stroke="#0d3a50" stroke-width="1.6"/><line x1="142.02" y1="280.3" x2="155.4" y2="280.3" stroke="#2b86a6" stroke-width="1.6" /><line x1="148.71" y1="271.8" x2="148.71" y2="288.8" stroke="#2b86a6" stroke-width="1.6" /><rect x="146.36" y="277.95" width="4.7" height="4.7" fill="#1f6e8e" stroke="#0d3a50" stroke-width="1.6"/><line x1="153.87" y1="294.7" x2="167.53" y2="294.7" stroke="#2b86a6" stroke-width="1.6" /><line x1="160.7" y1="288.7" x2="160.7" y2="300.7" stroke="#2b86a6" stroke-width="1.6" /><rect x="158.35" y="292.35" width="4.7" height="4.7" fill="#1f6e8e" stroke="#0d3a50" stroke-width="1.6"/><line x1="165.71" y1="307.5" x2="179.67" y2="307.5" stroke="#2b86a6" stroke-width="1.6" /><line x1="172.69" y1="302.5" x2="172.69" y2="312.5" stroke="#2b86a6" stroke-width="1.6" /><rect x="170.34" y="305.15" width="4.7" height="4.7" fill="#1f6e8e" stroke="#0d3a50" stroke-width="1.6"/><line x1="177.53" y1="310" x2="191.83" y2="310" stroke="#2b86a6" stroke-width="1.6" /><line x1="184.68" y1="306" x2="184.68" y2="314" stroke="#2b86a6" stroke-width="1.6" /><rect x="182.33" y="307.65" width="4.7" height="4.7" fill="#1f6e8e" stroke="#0d3a50" stroke-width="1.6"/><line x1="189.34" y1="320.8" x2="204" y2="320.8" stroke="#2b86a6" stroke-width="1.6" /><line x1="196.67" y1="318.3" x2="196.67" y2="323.3" stroke="#2b86a6" stroke-width="1.6" /><rect x="194.32" y="318.45" width="4.7" height="4.7" fill="#1f6e8e" stroke="#0d3a50" stroke-width="1.6"/><line x1="201.13" y1="324.2" x2="216.19" y2="324.2" stroke="#2b86a6" stroke-width="1.6" /><line x1="208.66" y1="321.7" x2="208.66" y2="326.7" stroke="#2b86a6" stroke-width="1.6" /><rect x="206.31" y="321.85" width="4.7" height="4.7" fill="#1f6e8e" stroke="#0d3a50" stroke-width="1.6"/><line x1="212.91" y1="313.7" x2="228.39" y2="313.7" stroke="#2b86a6" stroke-width="1.6" /><line x1="220.65" y1="311.2" x2="220.65" y2="316.2" stroke="#2b86a6" stroke-width="1.6" /><rect x="218.3" y="311.35" width="4.7" height="4.7" fill="#1f6e8e" stroke="#0d3a50" stroke-width="1.6"/><line x1="224.67" y1="302" x2="240.61" y2="302" stroke="#2b86a6" stroke-width="1.6" /><line x1="232.64" y1="295" x2="232.64" y2="309" stroke="#2b86a6" stroke-width="1.6" /><rect x="230.29" y="299.65" width="4.7" height="4.7" fill="#1f6e8e" stroke="#0d3a50" stroke-width="1.6"/><line x1="236.42" y1="293.3" x2="252.84" y2="293.3" stroke="#2b86a6" stroke-width="1.6" /><line x1="244.63" y1="286.3" x2="244.63" y2="300.3" stroke="#2b86a6" stroke-width="1.6" /><rect x="242.28" y="290.95" width="4.7" height="4.7" fill="#1f6e8e" stroke="#0d3a50" stroke-width="1.6"/><line x1="248.16" y1="294.5" x2="265.08" y2="294.5" stroke="#2b86a6" stroke-width="1.6" /><line x1="256.62" y1="292" x2="256.62" y2="297" stroke="#2b86a6" stroke-width="1.6" /><rect x="254.27" y="292.15" width="4.7" height="4.7" fill="#1f6e8e" stroke="#0d3a50" stroke-width="1.6"/><line x1="259.88" y1="275.4" x2="277.34" y2="275.4" stroke="#2b86a6" stroke-width="1.6" /><line x1="268.61" y1="272.9" x2="268.61" y2="277.9" stroke="#2b86a6" stroke-width="1.6" /><rect x="266.26" y="273.05" width="4.7" height="4.7" fill="#1f6e8e" stroke="#0d3a50" stroke-width="1.6"/><line x1="271.58" y1="267.8" x2="289.62" y2="267.8" stroke="#2b86a6" stroke-width="1.6" /><line x1="280.6" y1="265.3" x2="280.6" y2="270.3" stroke="#2b86a6" stroke-width="1.6" /><rect x="278.25" y="265.45" width="4.7" height="4.7" fill="#1f6e8e" stroke="#0d3a50" stroke-width="1.6"/><line x1="283.27" y1="256.7" x2="301.91" y2="256.7" stroke="#2b86a6" stroke-width="1.6" /><line x1="292.59" y1="254.2" x2="292.59" y2="259.2" stroke="#2b86a6" stroke-width="1.6" /><rect x="290.24" y="254.35" width="4.7" height="4.7" fill="#1f6e8e" stroke="#0d3a50" stroke-width="1.6"/><line x1="294.95" y1="251.7" x2="314.21" y2="251.7" stroke="#2b86a6" stroke-width="1.6" /><line x1="304.58" y1="249.2" x2="304.58" y2="254.2" stroke="#2b86a6" stroke-width="1.6" /><rect x="302.23" y="249.35" width="4.7" height="4.7" fill="#1f6e8e" stroke="#0d3a50" stroke-width="1.6"/><line x1="306.61" y1="252.3" x2="326.53" y2="252.3" stroke="#2b86a6" stroke-width="1.6" /><line x1="316.57" y1="249.8" x2="316.57" y2="254.8" stroke="#2b86a6" stroke-width="1.6" /><rect x="314.22" y="249.95" width="4.7" height="4.7" fill="#1f6e8e" stroke="#0d3a50" stroke-width="1.6"/><line x1="318.26" y1="250.7" x2="338.86" y2="250.7" stroke="#2b86a6" stroke-width="1.6" /><line x1="328.56" y1="248.2" x2="328.56" y2="253.2" stroke="#2b86a6" stroke-width="1.6" /><rect x="326.21" y="248.35" width="4.7" height="4.7" fill="#1f6e8e" stroke="#0d3a50" stroke-width="1.6"/><line x1="34.7" y1="320.3" x2="46.9" y2="320.3" stroke="#40b27c" stroke-width="1.6" /><line x1="40.8" y1="317.8" x2="40.8" y2="322.8" stroke="#40b27c" stroke-width="1.6" /><ellipse cx="40.8" cy="320.3" rx="3.2" ry="2.95" fill="#41a67a" stroke="#1a6242" stroke-width="1.6"/><line x1="46.68" y1="303.8" x2="58.9" y2="303.8" stroke="#40b27c" stroke-width="1.6" /><line x1="52.79" y1="292.3" x2="52.79" y2="315.3" stroke="#40b27c" stroke-width="1.6" /><ellipse cx="52.79" cy="303.8" rx="3.2" ry="2.95" fill="#41a67a" stroke="#1a6242" stroke-width="1.6"/><line x1="58.65" y1="298.8" x2="70.91" y2="298.8" stroke="#40b27c" stroke-width="1.6" /><line x1="64.78" y1="292.8" x2="64.78" y2="304.8" stroke="#40b27c" stroke-width="1.6" /><ellipse cx="64.78" cy="298.8" rx="3.2" ry="2.95" fill="#41a67a" stroke="#1a6242" stroke-width="1.6"/><line x1="70.6" y1="287.5" x2="82.94" y2="287.5" stroke="#40b27c" stroke-width="1.6" /><line x1="76.77" y1="281.5" x2="76.77" y2="293.5" stroke="#40b27c" stroke-width="1.6" /><ellipse cx="76.77" cy="287.5" rx="3.2" ry="2.95" fill="#41a67a" stroke="#1a6242" stroke-width="1.6"/><line x1="82.54" y1="288.3" x2="94.98" y2="288.3" stroke="#40b27c" stroke-width="1.6" /><line x1="88.76" y1="285.8" x2="88.76" y2="290.8" stroke="#40b27c" stroke-width="1.6" /><ellipse cx="88.76" cy="288.3" rx="3.2" ry="2.95" fill="#41a67a" stroke="#1a6242" stroke-width="1.6"/><line x1="94.47" y1="261.8" x2="107.03" y2="261.8" stroke="#40b27c" stroke-width="1.6" /><line x1="100.75" y1="259.3" x2="100.75" y2="264.3" stroke="#40b27c" stroke-width="1.6" /><ellipse cx="100.75" cy="261.8" rx="3.2" ry="2.95" fill="#41a67a" stroke="#1a6242" stroke-width="1.6"/><line x1="106.38" y1="252.8" x2="119.1" y2="252.8" stroke="#40b27c" stroke-width="1.6" /><line x1="112.74" y1="250.3" x2="112.74" y2="255.3" stroke="#40b27c" stroke-width="1.6" /><ellipse cx="112.74" cy="252.8" rx="3.2" ry="2.95" fill="#41a67a" stroke="#1a6242" stroke-width="1.6"/><line x1="118.27" y1="255" x2="131.19" y2="255" stroke="#40b27c" stroke-width="1.6" /><line x1="124.73" y1="252.5" x2="124.73" y2="257.5" stroke="#40b27c" stroke-width="1.6" /><ellipse cx="124.73" cy="255" rx="3.2" ry="2.95" fill="#41a67a" stroke="#1a6242" stroke-width="1.6"/><line x1="130.15" y1="260.2" x2="143.29" y2="260.2" stroke="#40b27c" stroke-width="1.6" /><line x1="136.72" y1="252.2" x2="136.72" y2="268.2" stroke="#40b27c" stroke-width="1.6" /><ellipse cx="136.72" cy="260.2" rx="3.2" ry="2.95" fill="#41a67a" stroke="#1a6242" stroke-width="1.6"/><line x1="142.02" y1="249.8" x2="155.4" y2="249.8" stroke="#40b27c" stroke-width="1.6" /><line x1="148.71" y1="247.3" x2="148.71" y2="252.3" stroke="#40b27c" stroke-width="1.6" /><ellipse cx="148.71" cy="249.8" rx="3.2" ry="2.95" fill="#41a67a" stroke="#1a6242" stroke-width="1.6"/><line x1="153.87" y1="279.6" x2="167.53" y2="279.6" stroke="#40b27c" stroke-width="1.6" /><line x1="160.7" y1="277.1" x2="160.7" y2="282.1" stroke="#40b27c" stroke-width="1.6" /><ellipse cx="160.7" cy="279.6" rx="3.2" ry="2.95" fill="#41a67a" stroke="#1a6242" stroke-width="1.6"/><line x1="165.71" y1="282.1" x2="179.67" y2="282.1" stroke="#40b27c" stroke-width="1.6" /><line x1="172.69" y1="279.6" x2="172.69" y2="284.6" stroke="#40b27c" stroke-width="1.6" /><ellipse cx="172.69" cy="282.1" rx="3.2" ry="2.95" fill="#41a67a" stroke="#1a6242" stroke-width="1.6"/><line x1="177.53" y1="293.3" x2="191.83" y2="293.3" stroke="#40b27c" stroke-width="1.6" /><line x1="184.68" y1="283.3" x2="184.68" y2="303.3" stroke="#40b27c" stroke-width="1.6" /><ellipse cx="184.68" cy="293.3" rx="3.2" ry="2.95" fill="#41a67a" stroke="#1a6242" stroke-width="1.6"/><line x1="189.34" y1="304.7" x2="204" y2="304.7" stroke="#40b27c" stroke-width="1.6" /><line x1="196.67" y1="298.7" x2="196.67" y2="310.7" stroke="#40b27c" stroke-width="1.6" /><ellipse cx="196.67" cy="304.7" rx="3.2" ry="2.95" fill="#41a67a" stroke="#1a6242" stroke-width="1.6"/><line x1="201.13" y1="311.7" x2="216.19" y2="311.7" stroke="#40b27c" stroke-width="1.6" /><line x1="208.66" y1="309.2" x2="208.66" y2="314.2" stroke="#40b27c" stroke-width="1.6" /><ellipse cx="208.66" cy="311.7" rx="3.2" ry="2.95" fill="#41a67a" stroke="#1a6242" stroke-width="1.6"/><line x1="212.91" y1="323.7" x2="228.39" y2="323.7" stroke="#40b27c" stroke-width="1.6" /><line x1="220.65" y1="321.2" x2="220.65" y2="326.2" stroke="#40b27c" stroke-width="1.6" /><ellipse cx="220.65" cy="323.7" rx="3.2" ry="2.95" fill="#41a67a" stroke="#1a6242" stroke-width="1.6"/><line x1="224.67" y1="319.2" x2="240.61" y2="319.2" stroke="#40b27c" stroke-width="1.6" /><line x1="232.64" y1="316.7" x2="232.64" y2="321.7" stroke="#40b27c" stroke-width="1.6" /><ellipse cx="232.64" cy="319.2" rx="3.2" ry="2.95" fill="#41a67a" stroke="#1a6242" stroke-width="1.6"/><line x1="236.42" y1="322.2" x2="252.84" y2="322.2" stroke="#40b27c" stroke-width="1.6" /><line x1="244.63" y1="319.7" x2="244.63" y2="324.7" stroke="#40b27c" stroke-width="1.6" /><ellipse cx="244.63" cy="322.2" rx="3.2" ry="2.95" fill="#41a67a" stroke="#1a6242" stroke-width="1.6"/><line x1="248.16" y1="310.3" x2="265.08" y2="310.3" stroke="#40b27c" stroke-width="1.6" /><line x1="256.62" y1="304.3" x2="256.62" y2="316.3" stroke="#40b27c" stroke-width="1.6" /><ellipse cx="256.62" cy="310.3" rx="3.2" ry="2.95" fill="#41a67a" stroke="#1a6242" stroke-width="1.6"/><line x1="259.88" y1="288.9" x2="277.34" y2="288.9" stroke="#40b27c" stroke-width="1.6" /><line x1="268.61" y1="277.9" x2="268.61" y2="299.9" stroke="#40b27c" stroke-width="1.6" /><ellipse cx="268.61" cy="288.9" rx="3.2" ry="2.95" fill="#41a67a" stroke="#1a6242" stroke-width="1.6"/><line x1="271.58" y1="274.1" x2="289.62" y2="274.1" stroke="#40b27c" stroke-width="1.6" /><line x1="280.6" y1="263.1" x2="280.6" y2="285.1" stroke="#40b27c" stroke-width="1.6" /><ellipse cx="280.6" cy="274.1" rx="3.2" ry="2.95" fill="#41a67a" stroke="#1a6242" stroke-width="1.6"/><line x1="283.27" y1="266.7" x2="301.91" y2="266.7" stroke="#40b27c" stroke-width="1.6" /><line x1="292.59" y1="264.2" x2="292.59" y2="269.2" stroke="#40b27c" stroke-width="1.6" /><ellipse cx="292.59" cy="266.7" rx="3.2" ry="2.95" fill="#41a67a" stroke="#1a6242" stroke-width="1.6"/><line x1="294.95" y1="259.4" x2="314.21" y2="259.4" stroke="#40b27c" stroke-width="1.6" /><line x1="304.58" y1="256.9" x2="304.58" y2="261.9" stroke="#40b27c" stroke-width="1.6" /><ellipse cx="304.58" cy="259.4" rx="3.2" ry="2.95" fill="#41a67a" stroke="#1a6242" stroke-width="1.6"/><line x1="306.61" y1="254.5" x2="326.53" y2="254.5" stroke="#40b27c" stroke-width="1.6" /><line x1="316.57" y1="252" x2="316.57" y2="257" stroke="#40b27c" stroke-width="1.6" /><ellipse cx="316.57" cy="254.5" rx="3.2" ry="2.95" fill="#41a67a" stroke="#1a6242" stroke-width="1.6"/><line x1="318.26" y1="253.5" x2="338.86" y2="253.5" stroke="#40b27c" stroke-width="1.6" /><line x1="328.56" y1="251" x2="328.56" y2="256" stroke="#40b27c" stroke-width="1.6" /><ellipse cx="328.56" cy="253.5" rx="3.2" ry="2.95" fill="#41a67a" stroke="#1a6242" stroke-width="1.6"/><line x1="34.7" y1="333.7" x2="46.9" y2="333.7" stroke="#93e057" stroke-width="1.6" /><line x1="40.8" y1="331.2" x2="40.8" y2="336.2" stroke="#93e057" stroke-width="1.6" /><path d="M40.8,329.7L44,333.7L40.8,337.7L37.6,333.7Z" fill="#80c84a" stroke="#487c20" stroke-width="1.6"/><line x1="46.68" y1="330" x2="58.9" y2="330" stroke="#93e057" stroke-width="1.6" /><line x1="52.79" y1="327.5" x2="52.79" y2="332.5" stroke="#93e057" stroke-width="1.6" /><path d="M52.79,326L55.99,330L52.79,334L49.59,330Z" fill="#80c84a" stroke="#487c20" stroke-width="1.6"/><line x1="58.65" y1="327.5" x2="70.91" y2="327.5" stroke="#93e057" stroke-width="1.6" /><line x1="64.78" y1="325" x2="64.78" y2="330" stroke="#93e057" stroke-width="1.6" /><path d="M64.78,323.5L67.98,327.5L64.78,331.5L61.58,327.5Z" fill="#80c84a" stroke="#487c20" stroke-width="1.6"/><line x1="70.6" y1="315" x2="82.94" y2="315" stroke="#93e057" stroke-width="1.6" /><line x1="76.77" y1="308" x2="76.77" y2="322" stroke="#93e057" stroke-width="1.6" /><path d="M76.77,311L79.97,315L76.77,319L73.57,315Z" fill="#80c84a" stroke="#487c20" stroke-width="1.6"/><line x1="82.54" y1="290.8" x2="94.98" y2="290.8" stroke="#93e057" stroke-width="1.6" /><line x1="88.76" y1="288.3" x2="88.76" y2="293.3" stroke="#93e057" stroke-width="1.6" /><path d="M88.76,286.8L91.96,290.8L88.76,294.8L85.56,290.8Z" fill="#80c84a" stroke="#487c20" stroke-width="1.6"/><line x1="94.47" y1="287.8" x2="107.03" y2="287.8" stroke="#93e057" stroke-width="1.6" /><line x1="100.75" y1="285.3" x2="100.75" y2="290.3" stroke="#93e057" stroke-width="1.6" /><path d="M100.75,283.8L103.95,287.8L100.75,291.8L97.55,287.8Z" fill="#80c84a" stroke="#487c20" stroke-width="1.6"/><line x1="106.38" y1="266.8" x2="119.1" y2="266.8" stroke="#93e057" stroke-width="1.6" /><line x1="112.74" y1="264.3" x2="112.74" y2="269.3" stroke="#93e057" stroke-width="1.6" /><path d="M112.74,262.8L115.94,266.8L112.74,270.8L109.54,266.8Z" fill="#80c84a" stroke="#487c20" stroke-width="1.6"/><line x1="118.27" y1="255.5" x2="131.19" y2="255.5" stroke="#93e057" stroke-width="1.6" /><line x1="124.73" y1="253" x2="124.73" y2="258" stroke="#93e057" stroke-width="1.6" /><path d="M124.73,251.5L127.93,255.5L124.73,259.5L121.53,255.5Z" fill="#80c84a" stroke="#487c20" stroke-width="1.6"/><line x1="130.15" y1="245.4" x2="143.29" y2="245.4" stroke="#93e057" stroke-width="1.6" /><line x1="136.72" y1="241.4" x2="136.72" y2="249.4" stroke="#93e057" stroke-width="1.6" /><path d="M136.72,241.4L139.92,245.4L136.72,249.4L133.52,245.4Z" fill="#80c84a" stroke="#487c20" stroke-width="1.6"/><line x1="142.02" y1="250.8" x2="155.4" y2="250.8" stroke="#93e057" stroke-width="1.6" /><line x1="148.71" y1="248.3" x2="148.71" y2="253.3" stroke="#93e057" stroke-width="1.6" /><path d="M148.71,246.8L151.91,250.8L148.71,254.8L145.51,250.8Z" fill="#80c84a" stroke="#487c20" stroke-width="1.6"/><line x1="153.87" y1="251.5" x2="167.53" y2="251.5" stroke="#93e057" stroke-width="1.6" /><line x1="160.7" y1="249" x2="160.7" y2="254" stroke="#93e057" stroke-width="1.6" /><path d="M160.7,247.5L163.9,251.5L160.7,255.5L157.5,251.5Z" fill="#80c84a" stroke="#487c20" stroke-width="1.6"/><line x1="165.71" y1="249.8" x2="179.67" y2="249.8" stroke="#93e057" stroke-width="1.6" /><line x1="172.69" y1="247.3" x2="172.69" y2="252.3" stroke="#93e057" stroke-width="1.6" /><path d="M172.69,245.8L175.89,249.8L172.69,253.8L169.49,249.8Z" fill="#80c84a" stroke="#487c20" stroke-width="1.6"/><line x1="177.53" y1="276.7" x2="191.83" y2="276.7" stroke="#93e057" stroke-width="1.6" /><line x1="184.68" y1="274.2" x2="184.68" y2="279.2" stroke="#93e057" stroke-width="1.6" /><path d="M184.68,272.7L187.88,276.7L184.68,280.7L181.48,276.7Z" fill="#80c84a" stroke="#487c20" stroke-width="1.6"/><line x1="189.34" y1="276.3" x2="204" y2="276.3" stroke="#93e057" stroke-width="1.6" /><line x1="196.67" y1="273.8" x2="196.67" y2="278.8" stroke="#93e057" stroke-width="1.6" /><path d="M196.67,272.3L199.87,276.3L196.67,280.3L193.47,276.3Z" fill="#80c84a" stroke="#487c20" stroke-width="1.6"/><line x1="201.13" y1="294.7" x2="216.19" y2="294.7" stroke="#93e057" stroke-width="1.6" /><line x1="208.66" y1="292.2" x2="208.66" y2="297.2" stroke="#93e057" stroke-width="1.6" /><path d="M208.66,290.7L211.86,294.7L208.66,298.7L205.46,294.7Z" fill="#80c84a" stroke="#487c20" stroke-width="1.6"/><line x1="212.91" y1="309.8" x2="228.39" y2="309.8" stroke="#93e057" stroke-width="1.6" /><line x1="220.65" y1="307.3" x2="220.65" y2="312.3" stroke="#93e057" stroke-width="1.6" /><path d="M220.65,305.8L223.85,309.8L220.65,313.8L217.45,309.8Z" fill="#80c84a" stroke="#487c20" stroke-width="1.6"/><line x1="224.67" y1="325.4" x2="240.61" y2="325.4" stroke="#93e057" stroke-width="1.6" /><line x1="232.64" y1="322.9" x2="232.64" y2="327.9" stroke="#93e057" stroke-width="1.6" /><path d="M232.64,321.4L235.84,325.4L232.64,329.4L229.44,325.4Z" fill="#80c84a" stroke="#487c20" stroke-width="1.6"/><line x1="236.42" y1="333.3" x2="252.84" y2="333.3" stroke="#93e057" stroke-width="1.6" /><line x1="244.63" y1="330.8" x2="244.63" y2="335.8" stroke="#93e057" stroke-width="1.6" /><path d="M244.63,329.3L247.83,333.3L244.63,337.3L241.43,333.3Z" fill="#80c84a" stroke="#487c20" stroke-width="1.6"/><line x1="248.16" y1="327.5" x2="265.08" y2="327.5" stroke="#93e057" stroke-width="1.6" /><line x1="256.62" y1="325" x2="256.62" y2="330" stroke="#93e057" stroke-width="1.6" /><path d="M256.62,323.5L259.82,327.5L256.62,331.5L253.42,327.5Z" fill="#80c84a" stroke="#487c20" stroke-width="1.6"/><line x1="259.88" y1="327.2" x2="277.34" y2="327.2" stroke="#93e057" stroke-width="1.6" /><line x1="268.61" y1="324.7" x2="268.61" y2="329.7" stroke="#93e057" stroke-width="1.6" /><path d="M268.61,323.2L271.81,327.2L268.61,331.2L265.41,327.2Z" fill="#80c84a" stroke="#487c20" stroke-width="1.6"/><line x1="271.58" y1="311.8" x2="289.62" y2="311.8" stroke="#93e057" stroke-width="1.6" /><line x1="280.6" y1="306.8" x2="280.6" y2="316.8" stroke="#93e057" stroke-width="1.6" /><path d="M280.6,307.8L283.8,311.8L280.6,315.8L277.4,311.8Z" fill="#80c84a" stroke="#487c20" stroke-width="1.6"/><line x1="283.27" y1="283" x2="301.91" y2="283" stroke="#93e057" stroke-width="1.6" /><line x1="292.59" y1="278" x2="292.59" y2="288" stroke="#93e057" stroke-width="1.6" /><path d="M292.59,279L295.79,283L292.59,287L289.39,283Z" fill="#80c84a" stroke="#487c20" stroke-width="1.6"/><line x1="294.95" y1="273.3" x2="314.21" y2="273.3" stroke="#93e057" stroke-width="1.6" /><line x1="304.58" y1="270.8" x2="304.58" y2="275.8" stroke="#93e057" stroke-width="1.6" /><path d="M304.58,269.3L307.78,273.3L304.58,277.3L301.38,273.3Z" fill="#80c84a" stroke="#487c20" stroke-width="1.6"/><line x1="306.61" y1="257.4" x2="326.53" y2="257.4" stroke="#93e057" stroke-width="1.6" /><line x1="316.57" y1="254.9" x2="316.57" y2="259.9" stroke="#93e057" stroke-width="1.6" /><path d="M316.57,253.4L319.77,257.4L316.57,261.4L313.37,257.4Z" fill="#80c84a" stroke="#487c20" stroke-width="1.6"/><line x1="318.26" y1="253.1" x2="338.86" y2="253.1" stroke="#93e057" stroke-width="1.6" /><line x1="328.56" y1="250.6" x2="328.56" y2="255.6" stroke="#93e057" stroke-width="1.6" /><path d="M328.56,249.1L331.76,253.1L328.56,257.1L325.36,253.1Z" fill="#80c84a" stroke="#487c20" stroke-width="1.6"/><rect x="32.8" y="226" width="307.6" height="126.4" fill="none" stroke="#474747" stroke-width="1.1"/><line x1="87.7" y1="352.4" x2="87.7" y2="349.4" stroke="#474747" stroke-width="1" /><text transform="translate(87.7,363.9) scale(1.1,1)" font-size="8.8" text-anchor="middle" font-weight="normal" font-style="normal" font-family='"Liberation Sans", sans-serif' fill="#141414" >10.5</text><line x1="142.5" y1="352.4" x2="142.5" y2="349.4" stroke="#474747" stroke-width="1" /><text transform="translate(142.5,363.9) scale(1.1,1)" font-size="8.8" text-anchor="middle" font-weight="normal" font-style="normal" font-family='"Liberation Sans", sans-serif' fill="#141414" >10.6</text><line x1="197.3" y1="352.4" x2="197.3" y2="349.4" stroke="#474747" stroke-width="1" /><text transform="translate(197.3,363.9) scale(1.1,1)" font-size="8.8" text-anchor="middle" font-weight="normal" font-style="normal" font-family='"Liberation Sans", sans-serif' fill="#141414" >10.7</text><line x1="252.1" y1="352.4" x2="252.1" y2="349.4" stroke="#474747" stroke-width="1" /><text transform="translate(252.1,363.9) scale(1.1,1)" font-size="8.8" text-anchor="middle" font-weight="normal" font-style="normal" font-family='"Liberation Sans", sans-serif' fill="#141414" >10.8</text><line x1="306.9" y1="352.4" x2="306.9" y2="349.4" stroke="#474747" stroke-width="1" /><text transform="translate(306.9,363.9) scale(1.1,1)" font-size="8.8" text-anchor="middle" font-weight="normal" font-style="normal" font-family='"Liberation Sans", sans-serif' fill="#141414" >10.9</text><line x1="78.3" y1="226" x2="78.3" y2="229" stroke="#474747" stroke-width="1" /><text transform="translate(78.6,222.1) scale(1.1,1)" font-size="8.8" text-anchor="middle" font-weight="normal" font-style="normal" font-family='"Liberation Sans", sans-serif' fill="#141414" >1.04</text><line x1="134.5" y1="226" x2="134.5" y2="229" stroke="#474747" stroke-width="1" /><text transform="translate(134.8,222.1) scale(1.1,1)" font-size="8.8" text-anchor="middle" font-weight="normal" font-style="normal" font-family='"Liberation Sans", sans-serif' fill="#141414" >1.03</text><line x1="190.8" y1="226" x2="190.8" y2="229" stroke="#474747" stroke-width="1" /><text transform="translate(191.1,222.1) scale(1.1,1)" font-size="8.8" text-anchor="middle" font-weight="normal" font-style="normal" font-family='"Liberation Sans", sans-serif' fill="#141414" >1.02</text><line x1="248.8" y1="226" x2="248.8" y2="229" stroke="#474747" stroke-width="1" /><text transform="translate(249.1,222.1) scale(1.1,1)" font-size="8.8" text-anchor="middle" font-weight="normal" font-style="normal" font-family='"Liberation Sans", sans-serif' fill="#141414" >1.01</text><line x1="308.3" y1="226" x2="308.3" y2="229" stroke="#474747" stroke-width="1" /><text transform="translate(308.6,222.1) scale(1.1,1)" font-size="8.8" text-anchor="middle" font-weight="normal" font-style="normal" font-family='"Liberation Sans", sans-serif' fill="#141414" >1</text><line x1="32.8" y1="226" x2="35.8" y2="226" stroke="#474747" stroke-width="1" /><line x1="340.4" y1="226" x2="337.4" y2="226" stroke="#474747" stroke-width="1" /><text transform="translate(30.9,229.7) scale(1.03,1)" font-size="9.5" text-anchor="end" font-weight="normal" font-style="normal" font-family='"Liberation Sans", sans-serif' fill="#141414" >1</text><line x1="32.8" y1="257.6" x2="35.8" y2="257.6" stroke="#474747" stroke-width="1" /><line x1="340.4" y1="257.6" x2="337.4" y2="257.6" stroke="#474747" stroke-width="1" /><text transform="translate(30.9,261.3) scale(1.03,1)" font-size="9.5" text-anchor="end" font-weight="normal" font-style="normal" font-family='"Liberation Sans", sans-serif' fill="#141414" >0.5</text><line x1="32.8" y1="289.2" x2="35.8" y2="289.2" stroke="#474747" stroke-width="1" /><line x1="340.4" y1="289.2" x2="337.4" y2="289.2" stroke="#474747" stroke-width="1" /><text transform="translate(30.9,292.9) scale(1.03,1)" font-size="9.5" text-anchor="end" font-weight="normal" font-style="normal" font-family='"Liberation Sans", sans-serif' fill="#141414" >0</text><line x1="32.8" y1="320.8" x2="35.8" y2="320.8" stroke="#474747" stroke-width="1" /><line x1="340.4" y1="320.8" x2="337.4" y2="320.8" stroke="#474747" stroke-width="1" /><text transform="translate(30.9,324.5) scale(1.03,1)" font-size="9.5" text-anchor="end" font-weight="normal" font-style="normal" font-family='"Liberation Sans", sans-serif' fill="#141414" >-0.5</text><line x1="32.8" y1="352.4" x2="35.8" y2="352.4" stroke="#474747" stroke-width="1" /><line x1="340.4" y1="352.4" x2="337.4" y2="352.4" stroke="#474747" stroke-width="1" /><text transform="translate(30.9,356.1) scale(1.03,1)" font-size="9.5" text-anchor="end" font-weight="normal" font-style="normal" font-family='"Liberation Sans", sans-serif' fill="#141414" >-1</text><text transform="translate(2.5,221.2) scale(1.0,1)" font-size="9" text-anchor="start" font-weight="bold" font-style="normal" font-family='"Liberation Sans", sans-serif' fill="#141414" >c</text><text transform="translate(40.8,237.7) scale(1.07,1)" font-size="8.9" text-anchor="start" font-weight="normal" font-style="normal" font-family='"Liberation Sans", sans-serif' fill="#141414" >Non-Magic</text><text transform="translate(157.1,211.6) scale(1.1,1)" font-size="8.8" text-anchor="start" font-weight="normal" font-style="normal" font-family='"Liberation Sans", sans-serif' fill="#141414" >Force</text><path d="M1.3,-4.6 C1.8,-5.9 3,-5.7 4,-5.9 C5.5,-6.1 7,-6.3 8.6,-6.5 M5.4,-6.1 C4.8,-3.5 3.5,-0.8 2,0 C1.4,0.2 0.8,0 0.5,-0.5 M4,-3.2 L7.3,-3.5" transform="translate(187.5,211.6) scale(0.956)" fill="none" stroke="#141414" stroke-width="0.9" stroke-linecap="round"/><text transform="translate(197.1,211.6) scale(1.1,1)" font-size="8.8" text-anchor="start" font-weight="normal" font-style="normal" font-family='"Liberation Sans", sans-serif' fill="#141414" >(<tspan font-style="italic">Mg</tspan>)</text><text transform="translate(140.9,373.7) scale(1.1,1)" font-size="8.8" text-anchor="start" font-weight="normal" font-style="normal" font-family='"Liberation Sans", sans-serif' fill="#141414" >Bloch Period <tspan font-style="italic">T</tspan><tspan dx="0.3" dy="4" font-size="6.6">B</tspan><tspan dx="0.4" dy="-4.0"> (ms)</tspan></text><text transform="translate(9.7,313.8) rotate(-90) scale(1,1.05)" font-size="9.3" text-anchor="start" font-weight="normal" font-style="normal" font-family='"Liberation Sans", sans-serif' fill="#141414" >Imbalance</text><path d="M1.5,-6.5 C3,-6.9 5.5,-6.6 7.6,-6.6 M5.2,-6.5 C4.8,-4.2 4.3,-2 3.9,0 M1.4,0 C3,0.2 5,-0.1 6.6,0.1" transform="translate(9.7,266.4) rotate(-90) scale(0.956)" fill="none" stroke="#141414" stroke-width="0.95" stroke-linecap="round"/><line x1="380.1" y1="311.1" x2="392.3" y2="311.1" stroke="#f7a882" stroke-width="1.6" /><line x1="386.2" y1="308.6" x2="386.2" y2="313.6" stroke="#f7a882" stroke-width="1.6" /><rect x="383.85" y="308.75" width="4.7" height="4.7" fill="#eb9a70" stroke="#7c4429" stroke-width="1.6"/><line x1="392.08" y1="324.5" x2="404.3" y2="324.5" stroke="#f7a882" stroke-width="1.6" /><line x1="398.19" y1="322" x2="398.19" y2="327" stroke="#f7a882" stroke-width="1.6" /><rect x="395.84" y="322.15" width="4.7" height="4.7" fill="#eb9a70" stroke="#7c4429" stroke-width="1.6"/><line x1="404.05" y1="332.7" x2="416.31" y2="332.7" stroke="#f7a882" stroke-width="1.6" /><line x1="410.18" y1="330.2" x2="410.18" y2="335.2" stroke="#f7a882" stroke-width="1.6" /><rect x="407.83" y="330.35" width="4.7" height="4.7" fill="#eb9a70" stroke="#7c4429" stroke-width="1.6"/><line x1="416" y1="336" x2="428.34" y2="336" stroke="#f7a882" stroke-width="1.6" /><line x1="422.17" y1="333.5" x2="422.17" y2="338.5" stroke="#f7a882" stroke-width="1.6" /><rect x="419.82" y="333.65" width="4.7" height="4.7" fill="#eb9a70" stroke="#7c4429" stroke-width="1.6"/><line x1="427.94" y1="326.8" x2="440.38" y2="326.8" stroke="#f7a882" stroke-width="1.6" /><line x1="434.16" y1="324.3" x2="434.16" y2="329.3" stroke="#f7a882" stroke-width="1.6" /><rect x="431.81" y="324.45" width="4.7" height="4.7" fill="#eb9a70" stroke="#7c4429" stroke-width="1.6"/><line x1="439.87" y1="316.8" x2="452.43" y2="316.8" stroke="#f7a882" stroke-width="1.6" /><line x1="446.15" y1="314.3" x2="446.15" y2="319.3" stroke="#f7a882" stroke-width="1.6" /><rect x="443.8" y="314.45" width="4.7" height="4.7" fill="#eb9a70" stroke="#7c4429" stroke-width="1.6"/><line x1="451.78" y1="304.1" x2="464.5" y2="304.1" stroke="#f7a882" stroke-width="1.6" /><line x1="458.14" y1="301.6" x2="458.14" y2="306.6" stroke="#f7a882" stroke-width="1.6" /><rect x="455.79" y="301.75" width="4.7" height="4.7" fill="#eb9a70" stroke="#7c4429" stroke-width="1.6"/><line x1="463.67" y1="288.5" x2="476.59" y2="288.5" stroke="#f7a882" stroke-width="1.6" /><line x1="470.13" y1="286" x2="470.13" y2="291" stroke="#f7a882" stroke-width="1.6" /><rect x="467.78" y="286.15" width="4.7" height="4.7" fill="#eb9a70" stroke="#7c4429" stroke-width="1.6"/><line x1="475.55" y1="274.7" x2="488.69" y2="274.7" stroke="#f7a882" stroke-width="1.6" /><line x1="482.12" y1="272.2" x2="482.12" y2="277.2" stroke="#f7a882" stroke-width="1.6" /><rect x="479.77" y="272.35" width="4.7" height="4.7" fill="#eb9a70" stroke="#7c4429" stroke-width="1.6"/><line x1="487.42" y1="259" x2="500.8" y2="259" stroke="#f7a882" stroke-width="1.6" /><line x1="494.11" y1="256.5" x2="494.11" y2="261.5" stroke="#f7a882" stroke-width="1.6" /><rect x="491.76" y="256.65" width="4.7" height="4.7" fill="#eb9a70" stroke="#7c4429" stroke-width="1.6"/><line x1="499.27" y1="251.8" x2="512.93" y2="251.8" stroke="#f7a882" stroke-width="1.6" /><line x1="506.1" y1="249.3" x2="506.1" y2="254.3" stroke="#f7a882" stroke-width="1.6" /><rect x="503.75" y="249.45" width="4.7" height="4.7" fill="#eb9a70" stroke="#7c4429" stroke-width="1.6"/><line x1="511.11" y1="245" x2="525.07" y2="245" stroke="#f7a882" stroke-width="1.6" /><line x1="518.09" y1="242.5" x2="518.09" y2="247.5" stroke="#f7a882" stroke-width="1.6" /><rect x="515.74" y="242.65" width="4.7" height="4.7" fill="#eb9a70" stroke="#7c4429" stroke-width="1.6"/><line x1="522.93" y1="244" x2="537.23" y2="244" stroke="#f7a882" stroke-width="1.6" /><line x1="530.08" y1="241.5" x2="530.08" y2="246.5" stroke="#f7a882" stroke-width="1.6" /><rect x="527.73" y="241.65" width="4.7" height="4.7" fill="#eb9a70" stroke="#7c4429" stroke-width="1.6"/><line x1="534.74" y1="246" x2="549.4" y2="246" stroke="#f7a882" stroke-width="1.6" /><line x1="542.07" y1="243.5" x2="542.07" y2="248.5" stroke="#f7a882" stroke-width="1.6" /><rect x="539.72" y="243.65" width="4.7" height="4.7" fill="#eb9a70" stroke="#7c4429" stroke-width="1.6"/><line x1="546.53" y1="259" x2="561.59" y2="259" stroke="#f7a882" stroke-width="1.6" /><line x1="554.06" y1="256.5" x2="554.06" y2="261.5" stroke="#f7a882" stroke-width="1.6" /><rect x="551.71" y="256.65" width="4.7" height="4.7" fill="#eb9a70" stroke="#7c4429" stroke-width="1.6"/><line x1="558.31" y1="274.7" x2="573.79" y2="274.7" stroke="#f7a882" stroke-width="1.6" /><line x1="566.05" y1="272.2" x2="566.05" y2="277.2" stroke="#f7a882" stroke-width="1.6" /><rect x="563.7" y="272.35" width="4.7" height="4.7" fill="#eb9a70" stroke="#7c4429" stroke-width="1.6"/><line x1="570.07" y1="285.8" x2="586.01" y2="285.8" stroke="#f7a882" stroke-width="1.6" /><line x1="578.04" y1="283.3" x2="578.04" y2="288.3" stroke="#f7a882" stroke-width="1.6" /><rect x="575.69" y="283.45" width="4.7" height="4.7" fill="#eb9a70" stroke="#7c4429" stroke-width="1.6"/><line x1="581.82" y1="301.3" x2="598.24" y2="301.3" stroke="#f7a882" stroke-width="1.6" /><line x1="590.03" y1="298.8" x2="590.03" y2="303.8" stroke="#f7a882" stroke-width="1.6" /><rect x="587.68" y="298.95" width="4.7" height="4.7" fill="#eb9a70" stroke="#7c4429" stroke-width="1.6"/><line x1="593.56" y1="320.8" x2="610.48" y2="320.8" stroke="#f7a882" stroke-width="1.6" /><line x1="602.02" y1="318.3" x2="602.02" y2="323.3" stroke="#f7a882" stroke-width="1.6" /><rect x="599.67" y="318.45" width="4.7" height="4.7" fill="#eb9a70" stroke="#7c4429" stroke-width="1.6"/><line x1="605.28" y1="332" x2="622.74" y2="332" stroke="#f7a882" stroke-width="1.6" /><line x1="614.01" y1="329.5" x2="614.01" y2="334.5" stroke="#f7a882" stroke-width="1.6" /><rect x="611.66" y="329.65" width="4.7" height="4.7" fill="#eb9a70" stroke="#7c4429" stroke-width="1.6"/><line x1="616.98" y1="332.5" x2="635.02" y2="332.5" stroke="#f7a882" stroke-width="1.6" /><line x1="626" y1="330" x2="626" y2="335" stroke="#f7a882" stroke-width="1.6" /><rect x="623.65" y="330.15" width="4.7" height="4.7" fill="#eb9a70" stroke="#7c4429" stroke-width="1.6"/><line x1="628.67" y1="332.5" x2="647.31" y2="332.5" stroke="#f7a882" stroke-width="1.6" /><line x1="637.99" y1="330" x2="637.99" y2="335" stroke="#f7a882" stroke-width="1.6" /><rect x="635.64" y="330.15" width="4.7" height="4.7" fill="#eb9a70" stroke="#7c4429" stroke-width="1.6"/><line x1="640.35" y1="318.5" x2="659.61" y2="318.5" stroke="#f7a882" stroke-width="1.6" /><line x1="649.98" y1="316" x2="649.98" y2="321" stroke="#f7a882" stroke-width="1.6" /><rect x="647.63" y="316.15" width="4.7" height="4.7" fill="#eb9a70" stroke="#7c4429" stroke-width="1.6"/><line x1="652.01" y1="301.7" x2="671.93" y2="301.7" stroke="#f7a882" stroke-width="1.6" /><line x1="661.97" y1="299.2" x2="661.97" y2="304.2" stroke="#f7a882" stroke-width="1.6" /><rect x="659.62" y="299.35" width="4.7" height="4.7" fill="#eb9a70" stroke="#7c4429" stroke-width="1.6"/><line x1="663.66" y1="289.7" x2="684.26" y2="289.7" stroke="#f7a882" stroke-width="1.6" /><line x1="673.96" y1="287.2" x2="673.96" y2="292.2" stroke="#f7a882" stroke-width="1.6" /><rect x="671.61" y="287.35" width="4.7" height="4.7" fill="#eb9a70" stroke="#7c4429" stroke-width="1.6"/><line x1="380.1" y1="305.3" x2="392.3" y2="305.3" stroke="#e293aa" stroke-width="1.6" /><line x1="386.2" y1="302.8" x2="386.2" y2="307.8" stroke="#e293aa" stroke-width="1.6" /><ellipse cx="386.2" cy="305.3" rx="3.2" ry="2.95" fill="#d98ea6" stroke="#713e52" stroke-width="1.6"/><line x1="392.08" y1="325" x2="404.3" y2="325" stroke="#e293aa" stroke-width="1.6" /><line x1="398.19" y1="322.5" x2="398.19" y2="327.5" stroke="#e293aa" stroke-width="1.6" /><ellipse cx="398.19" cy="325" rx="3.2" ry="2.95" fill="#d98ea6" stroke="#713e52" stroke-width="1.6"/><line x1="404.05" y1="329.1" x2="416.31" y2="329.1" stroke="#e293aa" stroke-width="1.6" /><line x1="410.18" y1="326.6" x2="410.18" y2="331.6" stroke="#e293aa" stroke-width="1.6" /><ellipse cx="410.18" cy="329.1" rx="3.2" ry="2.95" fill="#d98ea6" stroke="#713e52" stroke-width="1.6"/><line x1="416" y1="337" x2="428.34" y2="337" stroke="#e293aa" stroke-width="1.6" /><line x1="422.17" y1="334.5" x2="422.17" y2="339.5" stroke="#e293aa" stroke-width="1.6" /><ellipse cx="422.17" cy="337" rx="3.2" ry="2.95" fill="#d98ea6" stroke="#713e52" stroke-width="1.6"/><line x1="427.94" y1="332" x2="440.38" y2="332" stroke="#e293aa" stroke-width="1.6" /><line x1="434.16" y1="329.5" x2="434.16" y2="334.5" stroke="#e293aa" stroke-width="1.6" /><ellipse cx="434.16" cy="332" rx="3.2" ry="2.95" fill="#d98ea6" stroke="#713e52" stroke-width="1.6"/><line x1="439.87" y1="326" x2="452.43" y2="326" stroke="#e293aa" stroke-width="1.6" /><line x1="446.15" y1="323.5" x2="446.15" y2="328.5" stroke="#e293aa" stroke-width="1.6" /><ellipse cx="446.15" cy="326" rx="3.2" ry="2.95" fill="#d98ea6" stroke="#713e52" stroke-width="1.6"/><line x1="451.78" y1="308" x2="464.5" y2="308" stroke="#e293aa" stroke-width="1.6" /><line x1="458.14" y1="305.5" x2="458.14" y2="310.5" stroke="#e293aa" stroke-width="1.6" /><ellipse cx="458.14" cy="308" rx="3.2" ry="2.95" fill="#d98ea6" stroke="#713e52" stroke-width="1.6"/><line x1="463.67" y1="292" x2="476.59" y2="292" stroke="#e293aa" stroke-width="1.6" /><line x1="470.13" y1="289.5" x2="470.13" y2="294.5" stroke="#e293aa" stroke-width="1.6" /><ellipse cx="470.13" cy="292" rx="3.2" ry="2.95" fill="#d98ea6" stroke="#713e52" stroke-width="1.6"/><line x1="475.55" y1="277" x2="488.69" y2="277" stroke="#e293aa" stroke-width="1.6" /><line x1="482.12" y1="274.5" x2="482.12" y2="279.5" stroke="#e293aa" stroke-width="1.6" /><ellipse cx="482.12" cy="277" rx="3.2" ry="2.95" fill="#d98ea6" stroke="#713e52" stroke-width="1.6"/><line x1="487.42" y1="260.5" x2="500.8" y2="260.5" stroke="#e293aa" stroke-width="1.6" /><line x1="494.11" y1="258" x2="494.11" y2="263" stroke="#e293aa" stroke-width="1.6" /><ellipse cx="494.11" cy="260.5" rx="3.2" ry="2.95" fill="#d98ea6" stroke="#713e52" stroke-width="1.6"/><line x1="499.27" y1="249" x2="512.93" y2="249" stroke="#e293aa" stroke-width="1.6" /><line x1="506.1" y1="246.5" x2="506.1" y2="251.5" stroke="#e293aa" stroke-width="1.6" /><ellipse cx="506.1" cy="249" rx="3.2" ry="2.95" fill="#d98ea6" stroke="#713e52" stroke-width="1.6"/><line x1="511.11" y1="243" x2="525.07" y2="243" stroke="#e293aa" stroke-width="1.6" /><line x1="518.09" y1="240.5" x2="518.09" y2="245.5" stroke="#e293aa" stroke-width="1.6" /><ellipse cx="518.09" cy="243" rx="3.2" ry="2.95" fill="#d98ea6" stroke="#713e52" stroke-width="1.6"/><line x1="522.93" y1="245.7" x2="537.23" y2="245.7" stroke="#e293aa" stroke-width="1.6" /><line x1="530.08" y1="243.2" x2="530.08" y2="248.2" stroke="#e293aa" stroke-width="1.6" /><ellipse cx="530.08" cy="245.7" rx="3.2" ry="2.95" fill="#d98ea6" stroke="#713e52" stroke-width="1.6"/><line x1="534.74" y1="243.5" x2="549.4" y2="243.5" stroke="#e293aa" stroke-width="1.6" /><line x1="542.07" y1="241" x2="542.07" y2="246" stroke="#e293aa" stroke-width="1.6" /><ellipse cx="542.07" cy="243.5" rx="3.2" ry="2.95" fill="#d98ea6" stroke="#713e52" stroke-width="1.6"/><line x1="546.53" y1="257" x2="561.59" y2="257" stroke="#e293aa" stroke-width="1.6" /><line x1="554.06" y1="254.5" x2="554.06" y2="259.5" stroke="#e293aa" stroke-width="1.6" /><ellipse cx="554.06" cy="257" rx="3.2" ry="2.95" fill="#d98ea6" stroke="#713e52" stroke-width="1.6"/><line x1="558.31" y1="271.3" x2="573.79" y2="271.3" stroke="#e293aa" stroke-width="1.6" /><line x1="566.05" y1="268.8" x2="566.05" y2="273.8" stroke="#e293aa" stroke-width="1.6" /><ellipse cx="566.05" cy="271.3" rx="3.2" ry="2.95" fill="#d98ea6" stroke="#713e52" stroke-width="1.6"/><line x1="570.07" y1="279.7" x2="586.01" y2="279.7" stroke="#e293aa" stroke-width="1.6" /><line x1="578.04" y1="277.2" x2="578.04" y2="282.2" stroke="#e293aa" stroke-width="1.6" /><ellipse cx="578.04" cy="279.7" rx="3.2" ry="2.95" fill="#d98ea6" stroke="#713e52" stroke-width="1.6"/><line x1="581.82" y1="306" x2="598.24" y2="306" stroke="#e293aa" stroke-width="1.6" /><line x1="590.03" y1="303.5" x2="590.03" y2="308.5" stroke="#e293aa" stroke-width="1.6" /><ellipse cx="590.03" cy="306" rx="3.2" ry="2.95" fill="#d98ea6" stroke="#713e52" stroke-width="1.6"/><line x1="593.56" y1="313.8" x2="610.48" y2="313.8" stroke="#e293aa" stroke-width="1.6" /><line x1="602.02" y1="308.8" x2="602.02" y2="318.8" stroke="#e293aa" stroke-width="1.6" /><ellipse cx="602.02" cy="313.8" rx="3.2" ry="2.95" fill="#d98ea6" stroke="#713e52" stroke-width="1.6"/><line x1="605.28" y1="330.8" x2="622.74" y2="330.8" stroke="#e293aa" stroke-width="1.6" /><line x1="614.01" y1="328.3" x2="614.01" y2="333.3" stroke="#e293aa" stroke-width="1.6" /><ellipse cx="614.01" cy="330.8" rx="3.2" ry="2.95" fill="#d98ea6" stroke="#713e52" stroke-width="1.6"/><line x1="616.98" y1="336.3" x2="635.02" y2="336.3" stroke="#e293aa" stroke-width="1.6" /><line x1="626" y1="333.8" x2="626" y2="338.8" stroke="#e293aa" stroke-width="1.6" /><ellipse cx="626" cy="336.3" rx="3.2" ry="2.95" fill="#d98ea6" stroke="#713e52" stroke-width="1.6"/><line x1="628.67" y1="335.8" x2="647.31" y2="335.8" stroke="#e293aa" stroke-width="1.6" /><line x1="637.99" y1="333.3" x2="637.99" y2="338.3" stroke="#e293aa" stroke-width="1.6" /><ellipse cx="637.99" cy="335.8" rx="3.2" ry="2.95" fill="#d98ea6" stroke="#713e52" stroke-width="1.6"/><line x1="640.35" y1="326.3" x2="659.61" y2="326.3" stroke="#e293aa" stroke-width="1.6" /><line x1="649.98" y1="323.8" x2="649.98" y2="328.8" stroke="#e293aa" stroke-width="1.6" /><ellipse cx="649.98" cy="326.3" rx="3.2" ry="2.95" fill="#d98ea6" stroke="#713e52" stroke-width="1.6"/><line x1="652.01" y1="310.3" x2="671.93" y2="310.3" stroke="#e293aa" stroke-width="1.6" /><line x1="661.97" y1="307.8" x2="661.97" y2="312.8" stroke="#e293aa" stroke-width="1.6" /><ellipse cx="661.97" cy="310.3" rx="3.2" ry="2.95" fill="#d98ea6" stroke="#713e52" stroke-width="1.6"/><line x1="663.66" y1="290.6" x2="684.26" y2="290.6" stroke="#e293aa" stroke-width="1.6" /><line x1="673.96" y1="288.1" x2="673.96" y2="293.1" stroke="#e293aa" stroke-width="1.6" /><ellipse cx="673.96" cy="290.6" rx="3.2" ry="2.95" fill="#d98ea6" stroke="#713e52" stroke-width="1.6"/><line x1="380.1" y1="318.5" x2="392.3" y2="318.5" stroke="#d9383f" stroke-width="1.6" /><line x1="386.2" y1="316" x2="386.2" y2="321" stroke="#d9383f" stroke-width="1.6" /><path d="M386.2,314.5L389.4,318.5L386.2,322.5L383,318.5Z" fill="#d02c36" stroke="#7a131b" stroke-width="1.6"/><line x1="392.08" y1="325.4" x2="404.3" y2="325.4" stroke="#d9383f" stroke-width="1.6" /><line x1="398.19" y1="322.9" x2="398.19" y2="327.9" stroke="#d9383f" stroke-width="1.6" /><path d="M398.19,321.4L401.39,325.4L398.19,329.4L394.99,325.4Z" fill="#d02c36" stroke="#7a131b" stroke-width="1.6"/><line x1="404.05" y1="336.3" x2="416.31" y2="336.3" stroke="#d9383f" stroke-width="1.6" /><line x1="410.18" y1="333.8" x2="410.18" y2="338.8" stroke="#d9383f" stroke-width="1.6" /><path d="M410.18,332.3L413.38,336.3L410.18,340.3L406.98,336.3Z" fill="#d02c36" stroke="#7a131b" stroke-width="1.6"/><line x1="416" y1="337.6" x2="428.34" y2="337.6" stroke="#d9383f" stroke-width="1.6" /><line x1="422.17" y1="335.1" x2="422.17" y2="340.1" stroke="#d9383f" stroke-width="1.6" /><path d="M422.17,333.6L425.37,337.6L422.17,341.6L418.97,337.6Z" fill="#d02c36" stroke="#7a131b" stroke-width="1.6"/><line x1="427.94" y1="333.7" x2="440.38" y2="333.7" stroke="#d9383f" stroke-width="1.6" /><line x1="434.16" y1="331.2" x2="434.16" y2="336.2" stroke="#d9383f" stroke-width="1.6" /><path d="M434.16,329.7L437.36,333.7L434.16,337.7L430.96,333.7Z" fill="#d02c36" stroke="#7a131b" stroke-width="1.6"/><line x1="439.87" y1="327.4" x2="452.43" y2="327.4" stroke="#d9383f" stroke-width="1.6" /><line x1="446.15" y1="324.9" x2="446.15" y2="329.9" stroke="#d9383f" stroke-width="1.6" /><path d="M446.15,323.4L449.35,327.4L446.15,331.4L442.95,327.4Z" fill="#d02c36" stroke="#7a131b" stroke-width="1.6"/><line x1="451.78" y1="308.7" x2="464.5" y2="308.7" stroke="#d9383f" stroke-width="1.6" /><line x1="458.14" y1="306.2" x2="458.14" y2="311.2" stroke="#d9383f" stroke-width="1.6" /><path d="M458.14,304.7L461.34,308.7L458.14,312.7L454.94,308.7Z" fill="#d02c36" stroke="#7a131b" stroke-width="1.6"/><line x1="463.67" y1="293" x2="476.59" y2="293" stroke="#d9383f" stroke-width="1.6" /><line x1="470.13" y1="290.5" x2="470.13" y2="295.5" stroke="#d9383f" stroke-width="1.6" /><path d="M470.13,289L473.33,293L470.13,297L466.93,293Z" fill="#d02c36" stroke="#7a131b" stroke-width="1.6"/><line x1="475.55" y1="278" x2="488.69" y2="278" stroke="#d9383f" stroke-width="1.6" /><line x1="482.12" y1="275.5" x2="482.12" y2="280.5" stroke="#d9383f" stroke-width="1.6" /><path d="M482.12,274L485.32,278L482.12,282L478.92,278Z" fill="#d02c36" stroke="#7a131b" stroke-width="1.6"/><line x1="487.42" y1="257" x2="500.8" y2="257" stroke="#d9383f" stroke-width="1.6" /><line x1="494.11" y1="254.5" x2="494.11" y2="259.5" stroke="#d9383f" stroke-width="1.6" /><path d="M494.11,253L497.31,257L494.11,261L490.91,257Z" fill="#d02c36" stroke="#7a131b" stroke-width="1.6"/><line x1="499.27" y1="248.9" x2="512.93" y2="248.9" stroke="#d9383f" stroke-width="1.6" /><line x1="506.1" y1="246.4" x2="506.1" y2="251.4" stroke="#d9383f" stroke-width="1.6" /><path d="M506.1,244.9L509.3,248.9L506.1,252.9L502.9,248.9Z" fill="#d02c36" stroke="#7a131b" stroke-width="1.6"/><line x1="511.11" y1="241.3" x2="525.07" y2="241.3" stroke="#d9383f" stroke-width="1.6" /><line x1="518.09" y1="238.8" x2="518.09" y2="243.8" stroke="#d9383f" stroke-width="1.6" /><path d="M518.09,237.3L521.29,241.3L518.09,245.3L514.89,241.3Z" fill="#d02c36" stroke="#7a131b" stroke-width="1.6"/><line x1="522.93" y1="239.6" x2="537.23" y2="239.6" stroke="#d9383f" stroke-width="1.6" /><line x1="530.08" y1="237.1" x2="530.08" y2="242.1" stroke="#d9383f" stroke-width="1.6" /><path d="M530.08,235.6L533.28,239.6L530.08,243.6L526.88,239.6Z" fill="#d02c36" stroke="#7a131b" stroke-width="1.6"/><line x1="534.74" y1="247.8" x2="549.4" y2="247.8" stroke="#d9383f" stroke-width="1.6" /><line x1="542.07" y1="245.3" x2="542.07" y2="250.3" stroke="#d9383f" stroke-width="1.6" /><path d="M542.07,243.8L545.27,247.8L542.07,251.8L538.87,247.8Z" fill="#d02c36" stroke="#7a131b" stroke-width="1.6"/><line x1="546.53" y1="255.6" x2="561.59" y2="255.6" stroke="#d9383f" stroke-width="1.6" /><line x1="554.06" y1="253.1" x2="554.06" y2="258.1" stroke="#d9383f" stroke-width="1.6" /><path d="M554.06,251.6L557.26,255.6L554.06,259.6L550.86,255.6Z" fill="#d02c36" stroke="#7a131b" stroke-width="1.6"/><line x1="558.31" y1="268" x2="573.79" y2="268" stroke="#d9383f" stroke-width="1.6" /><line x1="566.05" y1="265.5" x2="566.05" y2="270.5" stroke="#d9383f" stroke-width="1.6" /><path d="M566.05,264L569.25,268L566.05,272L562.85,268Z" fill="#d02c36" stroke="#7a131b" stroke-width="1.6"/><line x1="570.07" y1="291.7" x2="586.01" y2="291.7" stroke="#d9383f" stroke-width="1.6" /><line x1="578.04" y1="289.2" x2="578.04" y2="294.2" stroke="#d9383f" stroke-width="1.6" /><path d="M578.04,287.7L581.24,291.7L578.04,295.7L574.84,291.7Z" fill="#d02c36" stroke="#7a131b" stroke-width="1.6"/><line x1="581.82" y1="309" x2="598.24" y2="309" stroke="#d9383f" stroke-width="1.6" /><line x1="590.03" y1="306.5" x2="590.03" y2="311.5" stroke="#d9383f" stroke-width="1.6" /><path d="M590.03,305L593.23,309L590.03,313L586.83,309Z" fill="#d02c36" stroke="#7a131b" stroke-width="1.6"/><line x1="593.56" y1="330.8" x2="610.48" y2="330.8" stroke="#d9383f" stroke-width="1.6" /><line x1="602.02" y1="328.3" x2="602.02" y2="333.3" stroke="#d9383f" stroke-width="1.6" /><path d="M602.02,326.8L605.22,330.8L602.02,334.8L598.82,330.8Z" fill="#d02c36" stroke="#7a131b" stroke-width="1.6"/><line x1="605.28" y1="333.7" x2="622.74" y2="333.7" stroke="#d9383f" stroke-width="1.6" /><line x1="614.01" y1="331.2" x2="614.01" y2="336.2" stroke="#d9383f" stroke-width="1.6" /><path d="M614.01,329.7L617.21,333.7L614.01,337.7L610.81,333.7Z" fill="#d02c36" stroke="#7a131b" stroke-width="1.6"/><line x1="616.98" y1="338.3" x2="635.02" y2="338.3" stroke="#d9383f" stroke-width="1.6" /><line x1="626" y1="335.8" x2="626" y2="340.8" stroke="#d9383f" stroke-width="1.6" /><path d="M626,334.3L629.2,338.3L626,342.3L622.8,338.3Z" fill="#d02c36" stroke="#7a131b" stroke-width="1.6"/><line x1="628.67" y1="333.7" x2="647.31" y2="333.7" stroke="#d9383f" stroke-width="1.6" /><line x1="637.99" y1="331.2" x2="637.99" y2="336.2" stroke="#d9383f" stroke-width="1.6" /><path d="M637.99,329.7L641.19,333.7L637.99,337.7L634.79,333.7Z" fill="#d02c36" stroke="#7a131b" stroke-width="1.6"/><line x1="640.35" y1="318" x2="659.61" y2="318" stroke="#d9383f" stroke-width="1.6" /><line x1="649.98" y1="315.5" x2="649.98" y2="320.5" stroke="#d9383f" stroke-width="1.6" /><path d="M649.98,314L653.18,318L649.98,322L646.78,318Z" fill="#d02c36" stroke="#7a131b" stroke-width="1.6"/><line x1="652.01" y1="304.5" x2="671.93" y2="304.5" stroke="#d9383f" stroke-width="1.6" /><line x1="661.97" y1="302" x2="661.97" y2="307" stroke="#d9383f" stroke-width="1.6" /><path d="M661.97,300.5L665.17,304.5L661.97,308.5L658.77,304.5Z" fill="#d02c36" stroke="#7a131b" stroke-width="1.6"/><line x1="663.66" y1="285.7" x2="684.26" y2="285.7" stroke="#d9383f" stroke-width="1.6" /><line x1="673.96" y1="283.2" x2="673.96" y2="288.2" stroke="#d9383f" stroke-width="1.6" /><path d="M673.96,281.7L677.16,285.7L673.96,289.7L670.76,285.7Z" fill="#d02c36" stroke="#7a131b" stroke-width="1.6"/><rect x="378.5" y="226" width="306" height="126.4" fill="none" stroke="#474747" stroke-width="1.1"/><line x1="432.7" y1="352.4" x2="432.7" y2="349.4" stroke="#474747" stroke-width="1" /><text transform="translate(432.7,363.9) scale(1.1,1)" font-size="8.8" text-anchor="middle" font-weight="normal" font-style="normal" font-family='"Liberation Sans", sans-serif' fill="#141414" >10.5</text><line x1="487.5" y1="352.4" x2="487.5" y2="349.4" stroke="#474747" stroke-width="1" /><text transform="translate(487.5,363.9) scale(1.1,1)" font-size="8.8" text-anchor="middle" font-weight="normal" font-style="normal" font-family='"Liberation Sans", sans-serif' fill="#141414" >10.6</text><line x1="542.3" y1="352.4" x2="542.3" y2="349.4" stroke="#474747" stroke-width="1" /><text transform="translate(542.3,363.9) scale(1.1,1)" font-size="8.8" text-anchor="middle" font-weight="normal" font-style="normal" font-family='"Liberation Sans", sans-serif' fill="#141414" >10.7</text><line x1="597.1" y1="352.4" x2="597.1" y2="349.4" stroke="#474747" stroke-width="1" /><text transform="translate(597.1,363.9) scale(1.1,1)" font-size="8.8" text-anchor="middle" font-weight="normal" font-style="normal" font-family='"Liberation Sans", sans-serif' fill="#141414" >10.8</text><line x1="651.9" y1="352.4" x2="651.9" y2="349.4" stroke="#474747" stroke-width="1" /><text transform="translate(651.9,363.9) scale(1.1,1)" font-size="8.8" text-anchor="middle" font-weight="normal" font-style="normal" font-family='"Liberation Sans", sans-serif' fill="#141414" >10.9</text><line x1="423.3" y1="226" x2="423.3" y2="229" stroke="#474747" stroke-width="1" /><text transform="translate(423.6,222.1) scale(1.1,1)" font-size="8.8" text-anchor="middle" font-weight="normal" font-style="normal" font-family='"Liberation Sans", sans-serif' fill="#141414" >1.04</text><line x1="479.5" y1="226" x2="479.5" y2="229" stroke="#474747" stroke-width="1" /><text transform="translate(479.8,222.1) scale(1.1,1)" font-size="8.8" text-anchor="middle" font-weight="normal" font-style="normal" font-family='"Liberation Sans", sans-serif' fill="#141414" >1.03</text><line x1="535.8" y1="226" x2="535.8" y2="229" stroke="#474747" stroke-width="1" /><text transform="translate(536.1,222.1) scale(1.1,1)" font-size="8.8" text-anchor="middle" font-weight="normal" font-style="normal" font-family='"Liberation Sans", sans-serif' fill="#141414" >1.02</text><line x1="593.8" y1="226" x2="593.8" y2="229" stroke="#474747" stroke-width="1" /><text transform="translate(594.1,222.1) scale(1.1,1)" font-size="8.8" text-anchor="middle" font-weight="normal" font-style="normal" font-family='"Liberation Sans", sans-serif' fill="#141414" >1.01</text><line x1="653.3" y1="226" x2="653.3" y2="229" stroke="#474747" stroke-width="1" /><text transform="translate(653.6,222.1) scale(1.1,1)" font-size="8.8" text-anchor="middle" font-weight="normal" font-style="normal" font-family='"Liberation Sans", sans-serif' fill="#141414" >1</text><line x1="378.5" y1="226" x2="381.5" y2="226" stroke="#474747" stroke-width="1" /><line x1="684.5" y1="226" x2="681.5" y2="226" stroke="#474747" stroke-width="1" /><text transform="translate(376.6,229.7) scale(1.03,1)" font-size="9.5" text-anchor="end" font-weight="normal" font-style="normal" font-family='"Liberation Sans", sans-serif' fill="#141414" >1</text><line x1="378.5" y1="257.6" x2="381.5" y2="257.6" stroke="#474747" stroke-width="1" /><line x1="684.5" y1="257.6" x2="681.5" y2="257.6" stroke="#474747" stroke-width="1" /><text transform="translate(376.6,261.3) scale(1.03,1)" font-size="9.5" text-anchor="end" font-weight="normal" font-style="normal" font-family='"Liberation Sans", sans-serif' fill="#141414" >0.5</text><line x1="378.5" y1="289.2" x2="381.5" y2="289.2" stroke="#474747" stroke-width="1" /><line x1="684.5" y1="289.2" x2="681.5" y2="289.2" stroke="#474747" stroke-width="1" /><text transform="translate(376.6,292.9) scale(1.03,1)" font-size="9.5" text-anchor="end" font-weight="normal" font-style="normal" font-family='"Liberation Sans", sans-serif' fill="#141414" >0</text><line x1="378.5" y1="320.8" x2="381.5" y2="320.8" stroke="#474747" stroke-width="1" /><line x1="684.5" y1="320.8" x2="681.5" y2="320.8" stroke="#474747" stroke-width="1" /><text transform="translate(376.6,324.5) scale(1.03,1)" font-size="9.5" text-anchor="end" font-weight="normal" font-style="normal" font-family='"Liberation Sans", sans-serif' fill="#141414" >-0.5</text><line x1="378.5" y1="352.4" x2="381.5" y2="352.4" stroke="#474747" stroke-width="1" /><line x1="684.5" y1="352.4" x2="681.5" y2="352.4" stroke="#474747" stroke-width="1" /><text transform="translate(376.6,356.1) scale(1.03,1)" font-size="9.5" text-anchor="end" font-weight="normal" font-style="normal" font-family='"Liberation Sans", sans-serif' fill="#141414" >-1</text><text transform="translate(348.2,221.2) scale(1.0,1)" font-size="9" text-anchor="start" font-weight="bold" font-style="normal" font-family='"Liberation Sans", sans-serif' fill="#141414" >d</text><text transform="translate(386.5,237.7) scale(1.07,1)" font-size="8.9" text-anchor="start" font-weight="normal" font-style="normal" font-family='"Liberation Sans", sans-serif' fill="#141414" >Magic</text><text transform="translate(502.1,211.6) scale(1.1,1)" font-size="8.8" text-anchor="start" font-weight="normal" font-style="normal" font-family='"Liberation Sans", sans-serif' fill="#141414" >Force</text><path d="M1.3,-4.6 C1.8,-5.9 3,-5.7 4,-5.9 C5.5,-6.1 7,-6.3 8.6,-6.5 M5.4,-6.1 C4.8,-3.5 3.5,-0.8 2,0 C1.4,0.2 0.8,0 0.5,-0.5 M4,-3.2 L7.3,-3.5" transform="translate(532.5,211.6) scale(0.956)" fill="none" stroke="#141414" stroke-width="0.9" stroke-linecap="round"/><text transform="translate(542.1,211.6) scale(1.1,1)" font-size="8.8" text-anchor="start" font-weight="normal" font-style="normal" font-family='"Liberation Sans", sans-serif' fill="#141414" >(<tspan font-style="italic">Mg</tspan>)</text><text transform="translate(484.87,373.7) scale(1.1,1)" font-size="8.8" text-anchor="start" font-weight="normal" font-style="normal" font-family='"Liberation Sans", sans-serif' fill="#141414" >Bloch Period <tspan font-style="italic">T</tspan><tspan dx="0.3" dy="4" font-size="6.6">B</tspan><tspan dx="0.4" dy="-4.0"> (ms)</tspan></text><text transform="translate(355.4,313.8) rotate(-90) scale(1,1.05)" font-size="9.3" text-anchor="start" font-weight="normal" font-style="normal" font-family='"Liberation Sans", sans-serif' fill="#141414" >Imbalance</text><path d="M1.5,-6.5 C3,-6.9 5.5,-6.6 7.6,-6.6 M5.2,-6.5 C4.8,-4.2 4.3,-2 3.9,0 M1.4,0 C3,0.2 5,-0.1 6.6,0.1" transform="translate(355.4,266.4) rotate(-90) scale(0.956)" fill="none" stroke="#141414" stroke-width="0.95" stroke-linecap="round"/>
</svg>
</body></html>
